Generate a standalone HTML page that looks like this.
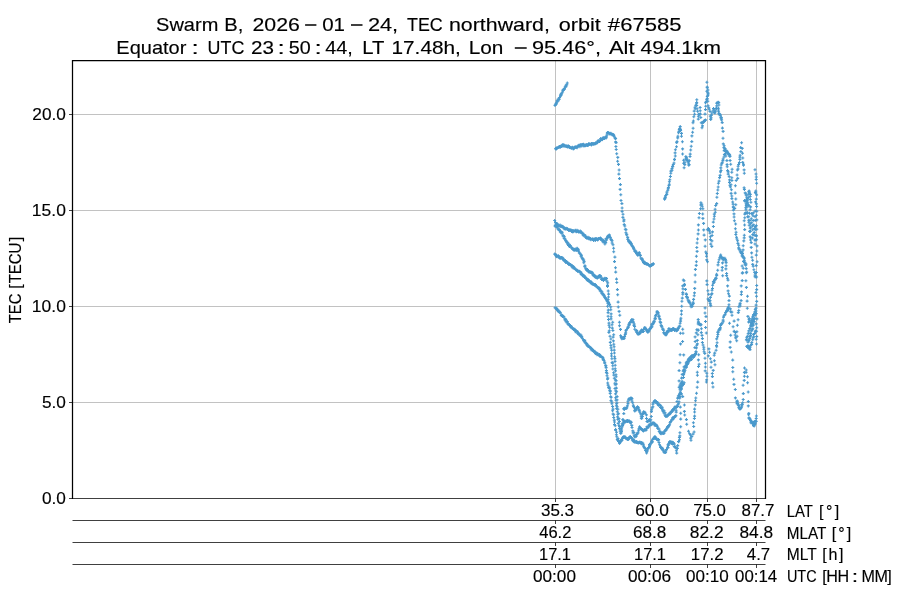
<!DOCTYPE html>
<html lang="en"><head><meta charset="utf-8"><title>TEC</title>
<style>html,body{margin:0;padding:0;background:#fff}svg{display:block;will-change:transform}</style></head>
<body>
<svg width="900" height="600" viewBox="0 0 900 600" font-family="'Liberation Sans', sans-serif" fill="#000">
<rect width="900" height="600" fill="#fff"/>
<path d="M72.5 114.5H765.5M72.5 210.5H765.5M72.5 306.5H765.5M72.5 402.5H765.5M555.5 60.5V498M650.5 60.5V498M707.5 60.5V498M756.5 60.5V498" stroke="#c2c2c2" stroke-width="1" fill="none"/>
<g stroke="#4a99cc" stroke-width="1.10" fill="none">
<path d="M553.5 105.4h3.0m-1.5 -1.5v3.0M557.6 99.5h3.0m-1.5 -1.5v3.0M561.5 90.5h3.0m-1.5 -1.5v3.0M565.8 83.0h3.0m-1.5 -1.5v3.0M557.7 147.1h3.0m-1.5 -1.5v3.0M560.9 145.3h3.0m-1.5 -1.5v3.0M565.3 145.8h3.0m-1.5 -1.5v3.0M570.0 148.1h3.0m-1.5 -1.5v3.0M573.7 147.2h3.0m-1.5 -1.5v3.0M578.4 146.7h3.0m-1.5 -1.5v3.0M582.4 146.1h3.0m-1.5 -1.5v3.0M586.8 144.9h3.0m-1.5 -1.5v3.0M590.2 143.5h3.0m-1.5 -1.5v3.0M594.2 143.2h3.0m-1.5 -1.5v3.0M598.9 140.5h3.0m-1.5 -1.5v3.0M602.1 138.2h3.0m-1.5 -1.5v3.0M606.2 132.6h3.0m-1.5 -1.5v3.0M610.2 133.9h3.0m-1.5 -1.5v3.0M614.1 138.6h3.0m-1.5 -1.5v3.0M617.0 164.4h3.0m-1.5 -1.5v3.0M620.4 203.6h3.0m-1.5 -1.5v3.0M623.3 226.0h3.0m-1.5 -1.5v3.0M627.1 240.0h3.0m-1.5 -1.5v3.0M630.2 245.2h3.0m-1.5 -1.5v3.0M634.4 251.2h3.0m-1.5 -1.5v3.0M637.7 252.6h3.0m-1.5 -1.5v3.0M642.0 262.5h3.0m-1.5 -1.5v3.0M645.6 264.3h3.0m-1.5 -1.5v3.0M650.2 265.3h3.0m-1.5 -1.5v3.0M555.1 224.6h3.0m-1.5 -1.5v3.0M559.4 226.7h3.0m-1.5 -1.5v3.0M563.4 228.8h3.0m-1.5 -1.5v3.0M567.7 229.9h3.0m-1.5 -1.5v3.0M571.6 231.7h3.0m-1.5 -1.5v3.0M575.6 231.2h3.0m-1.5 -1.5v3.0M579.9 232.7h3.0m-1.5 -1.5v3.0M584.0 237.3h3.0m-1.5 -1.5v3.0M588.9 238.5h3.0m-1.5 -1.5v3.0M592.9 239.1h3.0m-1.5 -1.5v3.0M596.9 239.1h3.0m-1.5 -1.5v3.0M601.4 241.1h3.0m-1.5 -1.5v3.0M604.4 238.9h3.0m-1.5 -1.5v3.0M607.8 235.8h3.0m-1.5 -1.5v3.0M612.1 248.3h3.0m-1.5 -1.5v3.0M615.9 289.6h3.0m-1.5 -1.5v3.0M619.0 329.4h3.0m-1.5 -1.5v3.0M622.5 338.4h3.0m-1.5 -1.5v3.0M626.1 328.2h3.0m-1.5 -1.5v3.0M629.4 322.1h3.0m-1.5 -1.5v3.0M633.1 326.5h3.0m-1.5 -1.5v3.0M637.6 333.2h3.0m-1.5 -1.5v3.0M640.2 330.8h3.0m-1.5 -1.5v3.0M644.6 329.8h3.0m-1.5 -1.5v3.0M647.6 330.9h3.0m-1.5 -1.5v3.0M651.9 323.7h3.0m-1.5 -1.5v3.0M654.8 314.7h3.0m-1.5 -1.5v3.0M658.6 319.3h3.0m-1.5 -1.5v3.0M662.2 330.2h3.0m-1.5 -1.5v3.0M665.5 332.7h3.0m-1.5 -1.5v3.0M669.4 330.2h3.0m-1.5 -1.5v3.0M672.3 329.0h3.0m-1.5 -1.5v3.0M676.2 329.6h3.0m-1.5 -1.5v3.0M679.4 318.2h3.0m-1.5 -1.5v3.0M681.5 288.9h3.0m-1.5 -1.5v3.0M685.0 294.5h3.0m-1.5 -1.5v3.0M687.7 302.3h3.0m-1.5 -1.5v3.0M691.6 302.2h3.0m-1.5 -1.5v3.0M694.7 265.4h3.0m-1.5 -1.5v3.0M696.9 230.0h3.0m-1.5 -1.5v3.0M700.7 206.3h3.0m-1.5 -1.5v3.0M703.6 246.3h3.0m-1.5 -1.5v3.0M554.7 226.1h3.0m-1.5 -1.5v3.0M558.9 231.3h3.0m-1.5 -1.5v3.0M562.7 238.5h3.0m-1.5 -1.5v3.0M567.0 245.5h3.0m-1.5 -1.5v3.0M571.4 249.1h3.0m-1.5 -1.5v3.0M575.6 248.8h3.0m-1.5 -1.5v3.0M579.8 255.6h3.0m-1.5 -1.5v3.0M583.5 265.8h3.0m-1.5 -1.5v3.0M586.8 271.2h3.0m-1.5 -1.5v3.0M591.6 274.1h3.0m-1.5 -1.5v3.0M594.8 277.2h3.0m-1.5 -1.5v3.0M599.0 275.9h3.0m-1.5 -1.5v3.0M602.6 278.7h3.0m-1.5 -1.5v3.0M606.0 285.4h3.0m-1.5 -1.5v3.0M606.8 310.1h3.0m-1.5 -1.5v3.0M607.4 332.4h3.0m-1.5 -1.5v3.0M610.0 356.0h3.0m-1.5 -1.5v3.0M612.8 378.2h3.0m-1.5 -1.5v3.0M614.4 400.2h3.0m-1.5 -1.5v3.0M616.7 423.4h3.0m-1.5 -1.5v3.0M620.6 423.7h3.0m-1.5 -1.5v3.0M624.4 408.4h3.0m-1.5 -1.5v3.0M628.6 398.9h3.0m-1.5 -1.5v3.0M632.1 406.6h3.0m-1.5 -1.5v3.0M636.3 407.4h3.0m-1.5 -1.5v3.0M639.8 418.3h3.0m-1.5 -1.5v3.0M643.1 412.6h3.0m-1.5 -1.5v3.0M647.4 420.9h3.0m-1.5 -1.5v3.0M650.6 407.9h3.0m-1.5 -1.5v3.0M655.0 402.0h3.0m-1.5 -1.5v3.0M658.7 405.4h3.0m-1.5 -1.5v3.0M662.5 410.8h3.0m-1.5 -1.5v3.0M666.0 415.7h3.0m-1.5 -1.5v3.0M670.1 411.2h3.0m-1.5 -1.5v3.0M674.1 407.2h3.0m-1.5 -1.5v3.0M678.3 398.0h3.0m-1.5 -1.5v3.0M681.6 383.7h3.0m-1.5 -1.5v3.0M683.6 367.7h3.0m-1.5 -1.5v3.0M688.1 359.5h3.0m-1.5 -1.5v3.0M692.0 357.1h3.0m-1.5 -1.5v3.0M695.9 343.9h3.0m-1.5 -1.5v3.0M697.9 324.2h3.0m-1.5 -1.5v3.0M700.9 338.6h3.0m-1.5 -1.5v3.0M703.9 363.3h3.0m-1.5 -1.5v3.0M554.3 254.5h3.0m-1.5 -1.5v3.0M558.0 258.1h3.0m-1.5 -1.5v3.0M562.6 260.3h3.0m-1.5 -1.5v3.0M566.3 263.0h3.0m-1.5 -1.5v3.0M570.5 265.5h3.0m-1.5 -1.5v3.0M574.3 269.7h3.0m-1.5 -1.5v3.0M579.3 272.4h3.0m-1.5 -1.5v3.0M583.4 277.5h3.0m-1.5 -1.5v3.0M587.6 281.5h3.0m-1.5 -1.5v3.0M591.8 284.3h3.0m-1.5 -1.5v3.0M595.9 287.3h3.0m-1.5 -1.5v3.0M599.5 291.3h3.0m-1.5 -1.5v3.0M603.3 297.3h3.0m-1.5 -1.5v3.0M607.1 302.5h3.0m-1.5 -1.5v3.0M609.5 318.9h3.0m-1.5 -1.5v3.0M612.3 344.3h3.0m-1.5 -1.5v3.0M613.7 368.8h3.0m-1.5 -1.5v3.0M615.6 396.6h3.0m-1.5 -1.5v3.0M618.0 426.5h3.0m-1.5 -1.5v3.0M621.8 423.8h3.0m-1.5 -1.5v3.0M626.0 421.4h3.0m-1.5 -1.5v3.0M630.3 425.4h3.0m-1.5 -1.5v3.0M634.6 436.4h3.0m-1.5 -1.5v3.0M638.1 426.7h3.0m-1.5 -1.5v3.0M642.9 429.7h3.0m-1.5 -1.5v3.0M647.5 425.1h3.0m-1.5 -1.5v3.0M651.2 423.1h3.0m-1.5 -1.5v3.0M655.1 425.3h3.0m-1.5 -1.5v3.0M659.2 433.5h3.0m-1.5 -1.5v3.0M664.0 430.2h3.0m-1.5 -1.5v3.0M667.4 425.5h3.0m-1.5 -1.5v3.0M671.4 417.5h3.0m-1.5 -1.5v3.0M675.8 406.5h3.0m-1.5 -1.5v3.0M678.2 387.4h3.0m-1.5 -1.5v3.0M681.7 371.1h3.0m-1.5 -1.5v3.0M684.8 362.8h3.0m-1.5 -1.5v3.0M688.8 357.4h3.0m-1.5 -1.5v3.0M692.9 354.9h3.0m-1.5 -1.5v3.0M555.8 309.3h3.0m-1.5 -1.5v3.0M559.8 315.4h3.0m-1.5 -1.5v3.0M564.3 319.8h3.0m-1.5 -1.5v3.0M568.8 325.5h3.0m-1.5 -1.5v3.0M572.2 329.2h3.0m-1.5 -1.5v3.0M576.8 333.1h3.0m-1.5 -1.5v3.0M580.2 336.9h3.0m-1.5 -1.5v3.0M584.7 343.3h3.0m-1.5 -1.5v3.0M588.5 347.3h3.0m-1.5 -1.5v3.0M592.2 351.5h3.0m-1.5 -1.5v3.0M596.4 354.0h3.0m-1.5 -1.5v3.0M600.8 357.4h3.0m-1.5 -1.5v3.0M604.4 365.8h3.0m-1.5 -1.5v3.0M606.2 383.0h3.0m-1.5 -1.5v3.0M609.1 396.7h3.0m-1.5 -1.5v3.0M611.5 414.0h3.0m-1.5 -1.5v3.0M614.1 430.1h3.0m-1.5 -1.5v3.0M617.1 441.5h3.0m-1.5 -1.5v3.0M619.8 439.7h3.0m-1.5 -1.5v3.0M623.5 437.1h3.0m-1.5 -1.5v3.0M627.4 438.7h3.0m-1.5 -1.5v3.0M631.4 439.4h3.0m-1.5 -1.5v3.0M634.8 442.6h3.0m-1.5 -1.5v3.0M639.2 443.1h3.0m-1.5 -1.5v3.0M642.6 447.3h3.0m-1.5 -1.5v3.0M645.9 448.5h3.0m-1.5 -1.5v3.0M650.3 442.5h3.0m-1.5 -1.5v3.0M653.5 437.9h3.0m-1.5 -1.5v3.0M657.5 442.5h3.0m-1.5 -1.5v3.0M661.7 450.0h3.0m-1.5 -1.5v3.0M666.5 447.6h3.0m-1.5 -1.5v3.0M670.4 443.4h3.0m-1.5 -1.5v3.0M673.9 447.2h3.0m-1.5 -1.5v3.0M678.0 439.8h3.0m-1.5 -1.5v3.0M677.0 397.6h3.0m-1.5 -1.5v3.0M679.1 343.9h3.0m-1.5 -1.5v3.0M663.8 197.3h3.0m-1.5 -1.5v3.0M667.5 185.5h3.0m-1.5 -1.5v3.0M670.5 168.5h3.0m-1.5 -1.5v3.0M673.6 152.9h3.0m-1.5 -1.5v3.0M677.5 131.4h3.0m-1.5 -1.5v3.0M680.9 141.8h3.0m-1.5 -1.5v3.0M684.2 159.1h3.0m-1.5 -1.5v3.0M687.6 164.5h3.0m-1.5 -1.5v3.0M690.4 135.9h3.0m-1.5 -1.5v3.0M693.7 108.8h3.0m-1.5 -1.5v3.0M696.1 111.3h3.0m-1.5 -1.5v3.0M699.3 117.5h3.0m-1.5 -1.5v3.0M702.5 121.2h3.0m-1.5 -1.5v3.0M704.8 101.6h3.0m-1.5 -1.5v3.0M705.4 82.3h3.0m-1.5 -1.5v3.0M708.5 111.4h3.0m-1.5 -1.5v3.0M712.0 108.5h3.0m-1.5 -1.5v3.0M715.3 105.9h3.0m-1.5 -1.5v3.0M717.1 111.8h3.0m-1.5 -1.5v3.0M720.1 119.9h3.0m-1.5 -1.5v3.0M723.4 148.5h3.0m-1.5 -1.5v3.0M726.8 153.2h3.0m-1.5 -1.5v3.0M730.6 169.3h3.0m-1.5 -1.5v3.0M707.5 229.8h3.0m-1.5 -1.5v3.0M710.6 235.5h3.0m-1.5 -1.5v3.0M713.6 209.3h3.0m-1.5 -1.5v3.0M717.6 181.1h3.0m-1.5 -1.5v3.0M720.8 162.7h3.0m-1.5 -1.5v3.0M724.2 151.8h3.0m-1.5 -1.5v3.0M726.7 174.1h3.0m-1.5 -1.5v3.0M730.3 196.0h3.0m-1.5 -1.5v3.0M732.6 217.0h3.0m-1.5 -1.5v3.0M736.1 240.7h3.0m-1.5 -1.5v3.0M740.0 252.3h3.0m-1.5 -1.5v3.0M742.8 235.2h3.0m-1.5 -1.5v3.0M744.2 207.7h3.0m-1.5 -1.5v3.0M747.7 191.0h3.0m-1.5 -1.5v3.0M707.8 301.1h3.0m-1.5 -1.5v3.0M742.4 257.9h3.0m-1.5 -1.5v3.0M744.7 268.6h3.0m-1.5 -1.5v3.0M736.2 178.4h3.0m-1.5 -1.5v3.0M738.4 157.1h3.0m-1.5 -1.5v3.0M741.2 162.4h3.0m-1.5 -1.5v3.0M744.3 193.7h3.0m-1.5 -1.5v3.0M743.1 200.6h3.0m-1.5 -1.5v3.0M748.6 196.5h3.0m-1.5 -1.5v3.0M748.9 223.7h3.0m-1.5 -1.5v3.0M751.1 260.3h3.0m-1.5 -1.5v3.0M745.6 213.5h3.0m-1.5 -1.5v3.0M749.0 240.0h3.0m-1.5 -1.5v3.0M753.3 240.0h3.0m-1.5 -1.5v3.0M751.0 238.0h3.0m-1.5 -1.5v3.0M753.5 169.7h3.0m-1.5 -1.5v3.0M755.1 194.9h3.0m-1.5 -1.5v3.0M754.9 225.7h3.0m-1.5 -1.5v3.0M754.7 265.6h3.0m-1.5 -1.5v3.0M755.0 296.3h3.0m-1.5 -1.5v3.0M755.1 331.2h3.0m-1.5 -1.5v3.0M710.5 290.3h3.0m-1.5 -1.5v3.0M714.2 278.1h3.0m-1.5 -1.5v3.0M718.2 257.8h3.0m-1.5 -1.5v3.0M721.9 258.4h3.0m-1.5 -1.5v3.0M725.1 273.5h3.0m-1.5 -1.5v3.0M727.5 300.6h3.0m-1.5 -1.5v3.0M721.8 260.0h3.0m-1.5 -1.5v3.0M718.4 329.7h3.0m-1.5 -1.5v3.0M721.6 320.1h3.0m-1.5 -1.5v3.0M726.3 310.6h3.0m-1.5 -1.5v3.0M732.6 321.1h3.0m-1.5 -1.5v3.0M736.8 312.6h3.0m-1.5 -1.5v3.0M740.0 291.9h3.0m-1.5 -1.5v3.0M729.2 335.2h3.0m-1.5 -1.5v3.0M732.5 384.4h3.0m-1.5 -1.5v3.0M737.4 405.4h3.0m-1.5 -1.5v3.0M740.0 407.7h3.0m-1.5 -1.5v3.0M742.7 380.4h3.0m-1.5 -1.5v3.0M746.7 392.0h3.0m-1.5 -1.5v3.0M749.2 420.6h3.0m-1.5 -1.5v3.0M752.0 425.6h3.0m-1.5 -1.5v3.0M754.7 418.5h3.0m-1.5 -1.5v3.0M745.2 272.1h3.0m-1.5 -1.5v3.0M744.9 339.9h3.0m-1.5 -1.5v3.0M748.4 328.5h3.0m-1.5 -1.5v3.0M752.1 314.6h3.0m-1.5 -1.5v3.0M748.2 338.6h3.0m-1.5 -1.5v3.0M751.6 324.1h3.0m-1.5 -1.5v3.0M746.2 347.5h3.0m-1.5 -1.5v3.0M750.3 342.5h3.0m-1.5 -1.5v3.0M747.8 318.5h3.0m-1.5 -1.5v3.0M751.6 321.5h3.0m-1.5 -1.5v3.0M683.2 415.0h3.0m-1.5 -1.5v3.0M690.3 436.5h3.0m-1.5 -1.5v3.0M693.1 409.1h3.0m-1.5 -1.5v3.0M695.8 372.2h3.0m-1.5 -1.5v3.0M704.0 321.5h3.0m-1.5 -1.5v3.0M709.5 367.2h3.0m-1.5 -1.5v3.0M714.6 350.3h3.0m-1.5 -1.5v3.0M694.8 332.9h3.0m-1.5 -1.5v3.0"/>
<path d="M554.3 104.3h3.0m-1.5 -1.5v3.0M558.1 97.6h3.0m-1.5 -1.5v3.0M561.6 89.9h3.0m-1.5 -1.5v3.0M554.0 148.8h3.0m-1.5 -1.5v3.0M558.1 146.6h3.0m-1.5 -1.5v3.0M561.5 144.6h3.0m-1.5 -1.5v3.0M565.9 146.9h3.0m-1.5 -1.5v3.0M570.2 148.1h3.0m-1.5 -1.5v3.0M574.3 146.9h3.0m-1.5 -1.5v3.0M578.5 145.6h3.0m-1.5 -1.5v3.0M583.3 145.6h3.0m-1.5 -1.5v3.0M586.8 144.5h3.0m-1.5 -1.5v3.0M590.7 143.4h3.0m-1.5 -1.5v3.0M594.8 143.0h3.0m-1.5 -1.5v3.0M598.9 140.0h3.0m-1.5 -1.5v3.0M602.7 137.7h3.0m-1.5 -1.5v3.0M606.4 132.8h3.0m-1.5 -1.5v3.0M610.6 134.7h3.0m-1.5 -1.5v3.0M614.1 141.9h3.0m-1.5 -1.5v3.0M617.6 170.0h3.0m-1.5 -1.5v3.0M620.6 208.0h3.0m-1.5 -1.5v3.0M623.8 229.2h3.0m-1.5 -1.5v3.0M627.1 241.1h3.0m-1.5 -1.5v3.0M630.8 246.1h3.0m-1.5 -1.5v3.0M634.8 252.4h3.0m-1.5 -1.5v3.0M638.2 255.1h3.0m-1.5 -1.5v3.0M643.1 262.2h3.0m-1.5 -1.5v3.0M646.1 263.9h3.0m-1.5 -1.5v3.0M650.1 265.2h3.0m-1.5 -1.5v3.0M555.7 224.6h3.0m-1.5 -1.5v3.0M559.7 226.5h3.0m-1.5 -1.5v3.0M564.2 228.9h3.0m-1.5 -1.5v3.0M568.1 230.3h3.0m-1.5 -1.5v3.0M572.1 231.0h3.0m-1.5 -1.5v3.0M576.5 231.0h3.0m-1.5 -1.5v3.0M580.9 233.4h3.0m-1.5 -1.5v3.0M585.0 237.6h3.0m-1.5 -1.5v3.0M589.0 239.0h3.0m-1.5 -1.5v3.0M593.8 240.5h3.0m-1.5 -1.5v3.0M597.4 238.6h3.0m-1.5 -1.5v3.0M601.8 240.2h3.0m-1.5 -1.5v3.0M605.2 238.8h3.0m-1.5 -1.5v3.0M608.7 237.5h3.0m-1.5 -1.5v3.0M612.2 251.8h3.0m-1.5 -1.5v3.0M616.2 294.8h3.0m-1.5 -1.5v3.0M619.1 335.7h3.0m-1.5 -1.5v3.0M623.1 336.5h3.0m-1.5 -1.5v3.0M626.6 327.2h3.0m-1.5 -1.5v3.0M630.2 320.2h3.0m-1.5 -1.5v3.0M633.3 329.3h3.0m-1.5 -1.5v3.0M637.9 333.8h3.0m-1.5 -1.5v3.0M640.9 331.5h3.0m-1.5 -1.5v3.0M644.9 329.3h3.0m-1.5 -1.5v3.0M648.2 328.7h3.0m-1.5 -1.5v3.0M652.2 322.4h3.0m-1.5 -1.5v3.0M655.6 312.6h3.0m-1.5 -1.5v3.0M658.6 321.9h3.0m-1.5 -1.5v3.0M662.1 332.7h3.0m-1.5 -1.5v3.0M665.7 331.6h3.0m-1.5 -1.5v3.0M669.8 330.5h3.0m-1.5 -1.5v3.0M673.3 330.5h3.0m-1.5 -1.5v3.0M676.8 328.5h3.0m-1.5 -1.5v3.0M679.9 314.2h3.0m-1.5 -1.5v3.0M681.2 285.9h3.0m-1.5 -1.5v3.0M685.1 296.8h3.0m-1.5 -1.5v3.0M688.6 303.0h3.0m-1.5 -1.5v3.0M692.1 299.4h3.0m-1.5 -1.5v3.0M694.9 261.8h3.0m-1.5 -1.5v3.0M696.9 224.9h3.0m-1.5 -1.5v3.0M701.4 208.7h3.0m-1.5 -1.5v3.0M704.3 252.0h3.0m-1.5 -1.5v3.0M555.2 226.7h3.0m-1.5 -1.5v3.0M558.9 232.2h3.0m-1.5 -1.5v3.0M563.6 239.0h3.0m-1.5 -1.5v3.0M567.5 244.4h3.0m-1.5 -1.5v3.0M572.3 249.6h3.0m-1.5 -1.5v3.0M575.6 248.3h3.0m-1.5 -1.5v3.0M579.6 256.2h3.0m-1.5 -1.5v3.0M583.3 266.6h3.0m-1.5 -1.5v3.0M587.3 271.9h3.0m-1.5 -1.5v3.0M591.6 275.2h3.0m-1.5 -1.5v3.0M595.8 277.8h3.0m-1.5 -1.5v3.0M599.3 276.7h3.0m-1.5 -1.5v3.0M603.4 278.2h3.0m-1.5 -1.5v3.0M606.0 286.5h3.0m-1.5 -1.5v3.0M606.6 312.6h3.0m-1.5 -1.5v3.0M608.5 336.2h3.0m-1.5 -1.5v3.0M610.4 358.8h3.0m-1.5 -1.5v3.0M613.9 380.0h3.0m-1.5 -1.5v3.0M615.0 403.7h3.0m-1.5 -1.5v3.0M617.6 425.5h3.0m-1.5 -1.5v3.0M621.5 420.0h3.0m-1.5 -1.5v3.0M625.3 407.8h3.0m-1.5 -1.5v3.0M629.2 398.3h3.0m-1.5 -1.5v3.0M633.1 407.9h3.0m-1.5 -1.5v3.0M636.4 407.4h3.0m-1.5 -1.5v3.0M640.3 418.2h3.0m-1.5 -1.5v3.0M643.6 413.3h3.0m-1.5 -1.5v3.0M647.9 420.0h3.0m-1.5 -1.5v3.0M651.4 406.8h3.0m-1.5 -1.5v3.0M654.9 401.8h3.0m-1.5 -1.5v3.0M659.2 405.9h3.0m-1.5 -1.5v3.0M662.4 413.0h3.0m-1.5 -1.5v3.0M666.7 415.0h3.0m-1.5 -1.5v3.0M671.2 411.0h3.0m-1.5 -1.5v3.0M675.0 407.3h3.0m-1.5 -1.5v3.0M678.4 396.6h3.0m-1.5 -1.5v3.0M681.9 384.4h3.0m-1.5 -1.5v3.0M685.0 367.2h3.0m-1.5 -1.5v3.0M688.8 359.3h3.0m-1.5 -1.5v3.0M693.0 354.7h3.0m-1.5 -1.5v3.0M695.8 340.4h3.0m-1.5 -1.5v3.0M698.3 323.9h3.0m-1.5 -1.5v3.0M700.9 342.5h3.0m-1.5 -1.5v3.0M703.9 367.0h3.0m-1.5 -1.5v3.0M554.2 255.1h3.0m-1.5 -1.5v3.0M559.1 258.3h3.0m-1.5 -1.5v3.0M562.6 260.6h3.0m-1.5 -1.5v3.0M567.1 264.2h3.0m-1.5 -1.5v3.0M571.4 266.7h3.0m-1.5 -1.5v3.0M575.5 270.3h3.0m-1.5 -1.5v3.0M579.1 272.7h3.0m-1.5 -1.5v3.0M583.2 276.9h3.0m-1.5 -1.5v3.0M587.8 281.0h3.0m-1.5 -1.5v3.0M591.6 284.0h3.0m-1.5 -1.5v3.0M596.4 287.5h3.0m-1.5 -1.5v3.0M600.4 291.7h3.0m-1.5 -1.5v3.0M603.7 297.6h3.0m-1.5 -1.5v3.0M607.4 303.7h3.0m-1.5 -1.5v3.0M611.2 322.2h3.0m-1.5 -1.5v3.0M612.6 346.7h3.0m-1.5 -1.5v3.0M614.0 370.9h3.0m-1.5 -1.5v3.0M615.5 399.9h3.0m-1.5 -1.5v3.0M618.2 428.7h3.0m-1.5 -1.5v3.0M622.5 422.5h3.0m-1.5 -1.5v3.0M626.2 420.4h3.0m-1.5 -1.5v3.0M630.5 427.5h3.0m-1.5 -1.5v3.0M635.0 434.6h3.0m-1.5 -1.5v3.0M639.1 428.6h3.0m-1.5 -1.5v3.0M643.4 429.6h3.0m-1.5 -1.5v3.0M647.9 425.5h3.0m-1.5 -1.5v3.0M652.2 423.1h3.0m-1.5 -1.5v3.0M655.9 426.2h3.0m-1.5 -1.5v3.0M659.6 433.8h3.0m-1.5 -1.5v3.0M664.3 430.2h3.0m-1.5 -1.5v3.0M668.1 424.7h3.0m-1.5 -1.5v3.0M671.8 417.9h3.0m-1.5 -1.5v3.0M675.5 401.5h3.0m-1.5 -1.5v3.0M678.6 385.1h3.0m-1.5 -1.5v3.0M682.1 370.3h3.0m-1.5 -1.5v3.0M685.7 361.5h3.0m-1.5 -1.5v3.0M689.7 356.6h3.0m-1.5 -1.5v3.0M693.5 354.6h3.0m-1.5 -1.5v3.0M556.1 310.0h3.0m-1.5 -1.5v3.0M561.2 315.8h3.0m-1.5 -1.5v3.0M564.6 321.7h3.0m-1.5 -1.5v3.0M568.9 326.4h3.0m-1.5 -1.5v3.0M573.1 329.3h3.0m-1.5 -1.5v3.0M576.8 333.9h3.0m-1.5 -1.5v3.0M580.8 338.3h3.0m-1.5 -1.5v3.0M585.0 343.5h3.0m-1.5 -1.5v3.0M588.7 347.4h3.0m-1.5 -1.5v3.0M593.1 351.2h3.0m-1.5 -1.5v3.0M597.4 355.1h3.0m-1.5 -1.5v3.0M601.3 357.6h3.0m-1.5 -1.5v3.0M604.6 367.6h3.0m-1.5 -1.5v3.0M606.6 385.1h3.0m-1.5 -1.5v3.0M609.7 397.2h3.0m-1.5 -1.5v3.0M612.2 414.7h3.0m-1.5 -1.5v3.0M615.0 432.3h3.0m-1.5 -1.5v3.0M617.2 441.3h3.0m-1.5 -1.5v3.0M620.5 440.2h3.0m-1.5 -1.5v3.0M624.0 438.0h3.0m-1.5 -1.5v3.0M627.5 437.8h3.0m-1.5 -1.5v3.0M631.9 441.2h3.0m-1.5 -1.5v3.0M635.6 442.2h3.0m-1.5 -1.5v3.0M639.7 442.4h3.0m-1.5 -1.5v3.0M643.1 447.7h3.0m-1.5 -1.5v3.0M646.7 448.8h3.0m-1.5 -1.5v3.0M650.0 441.3h3.0m-1.5 -1.5v3.0M653.8 438.0h3.0m-1.5 -1.5v3.0M658.0 444.8h3.0m-1.5 -1.5v3.0M662.4 451.8h3.0m-1.5 -1.5v3.0M666.5 444.7h3.0m-1.5 -1.5v3.0M671.1 442.2h3.0m-1.5 -1.5v3.0M674.5 447.9h3.0m-1.5 -1.5v3.0M677.9 437.4h3.0m-1.5 -1.5v3.0M678.8 392.1h3.0m-1.5 -1.5v3.0M681.1 341.5h3.0m-1.5 -1.5v3.0M664.0 195.9h3.0m-1.5 -1.5v3.0M667.8 184.3h3.0m-1.5 -1.5v3.0M671.2 166.6h3.0m-1.5 -1.5v3.0M673.9 149.7h3.0m-1.5 -1.5v3.0M677.8 129.5h3.0m-1.5 -1.5v3.0M681.1 148.9h3.0m-1.5 -1.5v3.0M684.2 156.8h3.0m-1.5 -1.5v3.0M687.3 165.2h3.0m-1.5 -1.5v3.0M691.1 132.3h3.0m-1.5 -1.5v3.0M693.5 107.3h3.0m-1.5 -1.5v3.0M697.1 114.3h3.0m-1.5 -1.5v3.0M699.8 122.8h3.0m-1.5 -1.5v3.0M703.4 120.4h3.0m-1.5 -1.5v3.0M705.3 99.6h3.0m-1.5 -1.5v3.0M705.7 87.1h3.0m-1.5 -1.5v3.0M708.8 116.1h3.0m-1.5 -1.5v3.0M712.5 109.8h3.0m-1.5 -1.5v3.0M715.2 103.3h3.0m-1.5 -1.5v3.0M717.4 113.5h3.0m-1.5 -1.5v3.0M720.7 122.6h3.0m-1.5 -1.5v3.0M723.5 150.1h3.0m-1.5 -1.5v3.0M726.8 154.0h3.0m-1.5 -1.5v3.0M730.3 172.2h3.0m-1.5 -1.5v3.0M708.0 230.9h3.0m-1.5 -1.5v3.0M711.0 231.9h3.0m-1.5 -1.5v3.0M714.2 205.5h3.0m-1.5 -1.5v3.0M718.1 177.6h3.0m-1.5 -1.5v3.0M721.4 160.6h3.0m-1.5 -1.5v3.0M723.9 153.9h3.0m-1.5 -1.5v3.0M727.7 176.6h3.0m-1.5 -1.5v3.0M730.4 198.6h3.0m-1.5 -1.5v3.0M732.9 220.7h3.0m-1.5 -1.5v3.0M736.4 243.4h3.0m-1.5 -1.5v3.0M740.0 253.3h3.0m-1.5 -1.5v3.0M743.2 229.6h3.0m-1.5 -1.5v3.0M745.1 204.7h3.0m-1.5 -1.5v3.0M705.3 280.9h3.0m-1.5 -1.5v3.0M708.7 303.4h3.0m-1.5 -1.5v3.0M742.9 260.2h3.0m-1.5 -1.5v3.0M744.8 272.7h3.0m-1.5 -1.5v3.0M735.6 175.0h3.0m-1.5 -1.5v3.0M738.6 155.3h3.0m-1.5 -1.5v3.0M742.0 164.2h3.0m-1.5 -1.5v3.0M744.7 195.2h3.0m-1.5 -1.5v3.0M743.6 201.5h3.0m-1.5 -1.5v3.0M748.8 199.5h3.0m-1.5 -1.5v3.0M749.2 227.2h3.0m-1.5 -1.5v3.0M751.2 264.4h3.0m-1.5 -1.5v3.0M746.1 216.7h3.0m-1.5 -1.5v3.0M751.8 212.9h3.0m-1.5 -1.5v3.0M753.5 244.0h3.0m-1.5 -1.5v3.0M753.7 211.1h3.0m-1.5 -1.5v3.0M754.5 174.0h3.0m-1.5 -1.5v3.0M754.8 199.1h3.0m-1.5 -1.5v3.0M755.3 229.2h3.0m-1.5 -1.5v3.0M754.9 272.5h3.0m-1.5 -1.5v3.0M755.2 301.4h3.0m-1.5 -1.5v3.0M755.2 336.5h3.0m-1.5 -1.5v3.0M711.0 288.5h3.0m-1.5 -1.5v3.0M714.6 278.4h3.0m-1.5 -1.5v3.0M718.9 256.1h3.0m-1.5 -1.5v3.0M722.1 258.2h3.0m-1.5 -1.5v3.0M725.1 275.6h3.0m-1.5 -1.5v3.0M727.5 304.8h3.0m-1.5 -1.5v3.0M715.0 345.6h3.0m-1.5 -1.5v3.0M718.4 328.6h3.0m-1.5 -1.5v3.0M722.0 317.1h3.0m-1.5 -1.5v3.0M726.5 309.0h3.0m-1.5 -1.5v3.0M731.6 326.8h3.0m-1.5 -1.5v3.0M737.3 310.5h3.0m-1.5 -1.5v3.0M739.7 285.9h3.0m-1.5 -1.5v3.0M728.7 341.9h3.0m-1.5 -1.5v3.0M733.8 389.5h3.0m-1.5 -1.5v3.0M736.8 405.3h3.0m-1.5 -1.5v3.0M740.2 406.2h3.0m-1.5 -1.5v3.0M742.9 376.2h3.0m-1.5 -1.5v3.0M746.8 401.5h3.0m-1.5 -1.5v3.0M749.0 420.3h3.0m-1.5 -1.5v3.0M752.7 425.9h3.0m-1.5 -1.5v3.0M754.9 416.0h3.0m-1.5 -1.5v3.0M744.4 280.7h3.0m-1.5 -1.5v3.0M745.4 339.2h3.0m-1.5 -1.5v3.0M749.4 325.5h3.0m-1.5 -1.5v3.0M753.4 313.1h3.0m-1.5 -1.5v3.0M748.6 336.6h3.0m-1.5 -1.5v3.0M752.7 321.6h3.0m-1.5 -1.5v3.0M747.4 346.5h3.0m-1.5 -1.5v3.0M751.2 339.7h3.0m-1.5 -1.5v3.0M747.6 319.5h3.0m-1.5 -1.5v3.0M752.0 320.0h3.0m-1.5 -1.5v3.0M684.9 419.6h3.0m-1.5 -1.5v3.0M691.5 434.1h3.0m-1.5 -1.5v3.0M693.8 404.9h3.0m-1.5 -1.5v3.0M697.0 366.5h3.0m-1.5 -1.5v3.0M704.1 327.5h3.0m-1.5 -1.5v3.0M711.7 370.4h3.0m-1.5 -1.5v3.0M713.2 353.1h3.0m-1.5 -1.5v3.0M695.3 329.7h3.0m-1.5 -1.5v3.0"/>
<path d="M554.7 103.9h3.0m-1.5 -1.5v3.0M558.9 96.0h3.0m-1.5 -1.5v3.0M562.7 89.4h3.0m-1.5 -1.5v3.0M554.8 148.2h3.0m-1.5 -1.5v3.0M558.8 147.2h3.0m-1.5 -1.5v3.0M561.9 145.9h3.0m-1.5 -1.5v3.0M566.9 145.9h3.0m-1.5 -1.5v3.0M570.9 147.2h3.0m-1.5 -1.5v3.0M574.5 147.0h3.0m-1.5 -1.5v3.0M578.7 144.7h3.0m-1.5 -1.5v3.0M583.3 145.1h3.0m-1.5 -1.5v3.0M587.4 143.5h3.0m-1.5 -1.5v3.0M591.6 144.5h3.0m-1.5 -1.5v3.0M595.9 142.0h3.0m-1.5 -1.5v3.0M599.2 138.6h3.0m-1.5 -1.5v3.0M603.1 138.4h3.0m-1.5 -1.5v3.0M606.9 132.7h3.0m-1.5 -1.5v3.0M611.4 134.4h3.0m-1.5 -1.5v3.0M614.6 142.6h3.0m-1.5 -1.5v3.0M617.4 174.1h3.0m-1.5 -1.5v3.0M620.6 211.4h3.0m-1.5 -1.5v3.0M624.6 229.8h3.0m-1.5 -1.5v3.0M627.6 241.9h3.0m-1.5 -1.5v3.0M631.7 247.0h3.0m-1.5 -1.5v3.0M635.0 253.6h3.0m-1.5 -1.5v3.0M638.9 255.4h3.0m-1.5 -1.5v3.0M642.8 263.4h3.0m-1.5 -1.5v3.0M646.8 264.5h3.0m-1.5 -1.5v3.0M651.3 264.5h3.0m-1.5 -1.5v3.0M555.8 223.8h3.0m-1.5 -1.5v3.0M560.3 225.9h3.0m-1.5 -1.5v3.0M564.6 228.2h3.0m-1.5 -1.5v3.0M568.5 229.8h3.0m-1.5 -1.5v3.0M572.6 231.0h3.0m-1.5 -1.5v3.0M576.7 231.2h3.0m-1.5 -1.5v3.0M580.9 233.5h3.0m-1.5 -1.5v3.0M585.3 238.2h3.0m-1.5 -1.5v3.0M589.4 239.8h3.0m-1.5 -1.5v3.0M593.9 238.9h3.0m-1.5 -1.5v3.0M597.6 238.4h3.0m-1.5 -1.5v3.0M601.6 242.0h3.0m-1.5 -1.5v3.0M606.0 237.9h3.0m-1.5 -1.5v3.0M608.7 237.2h3.0m-1.5 -1.5v3.0M613.4 257.1h3.0m-1.5 -1.5v3.0M616.6 302.1h3.0m-1.5 -1.5v3.0M619.9 337.3h3.0m-1.5 -1.5v3.0M622.8 336.8h3.0m-1.5 -1.5v3.0M626.6 327.1h3.0m-1.5 -1.5v3.0M630.1 319.7h3.0m-1.5 -1.5v3.0M634.7 331.0h3.0m-1.5 -1.5v3.0M638.4 333.5h3.0m-1.5 -1.5v3.0M641.9 331.5h3.0m-1.5 -1.5v3.0M645.5 330.5h3.0m-1.5 -1.5v3.0M649.0 328.6h3.0m-1.5 -1.5v3.0M652.6 321.6h3.0m-1.5 -1.5v3.0M655.6 311.4h3.0m-1.5 -1.5v3.0M659.2 322.6h3.0m-1.5 -1.5v3.0M662.9 333.3h3.0m-1.5 -1.5v3.0M666.4 332.1h3.0m-1.5 -1.5v3.0M670.1 329.5h3.0m-1.5 -1.5v3.0M673.1 330.3h3.0m-1.5 -1.5v3.0M676.8 327.9h3.0m-1.5 -1.5v3.0M680.0 310.9h3.0m-1.5 -1.5v3.0M681.8 280.0h3.0m-1.5 -1.5v3.0M685.2 296.6h3.0m-1.5 -1.5v3.0M689.3 304.2h3.0m-1.5 -1.5v3.0M692.7 295.8h3.0m-1.5 -1.5v3.0M694.9 256.2h3.0m-1.5 -1.5v3.0M697.5 217.7h3.0m-1.5 -1.5v3.0M701.2 214.0h3.0m-1.5 -1.5v3.0M705.0 253.6h3.0m-1.5 -1.5v3.0M555.3 226.6h3.0m-1.5 -1.5v3.0M560.1 232.1h3.0m-1.5 -1.5v3.0M564.2 240.5h3.0m-1.5 -1.5v3.0M568.0 246.6h3.0m-1.5 -1.5v3.0M572.1 249.9h3.0m-1.5 -1.5v3.0M576.7 249.4h3.0m-1.5 -1.5v3.0M580.4 257.8h3.0m-1.5 -1.5v3.0M584.3 268.8h3.0m-1.5 -1.5v3.0M588.4 272.3h3.0m-1.5 -1.5v3.0M592.0 274.9h3.0m-1.5 -1.5v3.0M595.7 277.9h3.0m-1.5 -1.5v3.0M600.4 278.4h3.0m-1.5 -1.5v3.0M603.8 279.3h3.0m-1.5 -1.5v3.0M606.7 291.0h3.0m-1.5 -1.5v3.0M606.6 316.3h3.0m-1.5 -1.5v3.0M609.4 339.0h3.0m-1.5 -1.5v3.0M610.6 362.6h3.0m-1.5 -1.5v3.0M613.4 383.2h3.0m-1.5 -1.5v3.0M614.9 405.8h3.0m-1.5 -1.5v3.0M618.1 428.4h3.0m-1.5 -1.5v3.0M621.4 419.5h3.0m-1.5 -1.5v3.0M625.9 405.9h3.0m-1.5 -1.5v3.0M629.6 398.1h3.0m-1.5 -1.5v3.0M633.3 410.9h3.0m-1.5 -1.5v3.0M636.9 408.0h3.0m-1.5 -1.5v3.0M640.9 416.4h3.0m-1.5 -1.5v3.0M644.9 414.9h3.0m-1.5 -1.5v3.0M647.9 419.7h3.0m-1.5 -1.5v3.0M651.4 404.1h3.0m-1.5 -1.5v3.0M655.6 402.4h3.0m-1.5 -1.5v3.0M659.0 407.5h3.0m-1.5 -1.5v3.0M663.6 412.9h3.0m-1.5 -1.5v3.0M667.4 414.1h3.0m-1.5 -1.5v3.0M671.3 409.5h3.0m-1.5 -1.5v3.0M674.8 406.7h3.0m-1.5 -1.5v3.0M679.7 394.1h3.0m-1.5 -1.5v3.0M682.7 382.7h3.0m-1.5 -1.5v3.0M684.6 366.6h3.0m-1.5 -1.5v3.0M689.5 359.6h3.0m-1.5 -1.5v3.0M693.1 355.0h3.0m-1.5 -1.5v3.0M696.4 334.8h3.0m-1.5 -1.5v3.0M698.8 324.8h3.0m-1.5 -1.5v3.0M701.5 345.0h3.0m-1.5 -1.5v3.0M703.7 370.9h3.0m-1.5 -1.5v3.0M554.8 256.1h3.0m-1.5 -1.5v3.0M558.8 257.5h3.0m-1.5 -1.5v3.0M563.8 260.6h3.0m-1.5 -1.5v3.0M567.8 264.4h3.0m-1.5 -1.5v3.0M571.8 266.7h3.0m-1.5 -1.5v3.0M575.6 270.4h3.0m-1.5 -1.5v3.0M579.7 274.5h3.0m-1.5 -1.5v3.0M584.1 278.2h3.0m-1.5 -1.5v3.0M588.7 281.6h3.0m-1.5 -1.5v3.0M592.9 285.1h3.0m-1.5 -1.5v3.0M596.8 288.5h3.0m-1.5 -1.5v3.0M600.3 293.1h3.0m-1.5 -1.5v3.0M604.0 298.7h3.0m-1.5 -1.5v3.0M608.0 304.5h3.0m-1.5 -1.5v3.0M610.5 324.8h3.0m-1.5 -1.5v3.0M612.7 350.1h3.0m-1.5 -1.5v3.0M614.5 374.7h3.0m-1.5 -1.5v3.0M615.5 403.0h3.0m-1.5 -1.5v3.0M619.3 433.3h3.0m-1.5 -1.5v3.0M622.4 421.6h3.0m-1.5 -1.5v3.0M627.5 421.6h3.0m-1.5 -1.5v3.0M631.3 430.9h3.0m-1.5 -1.5v3.0M635.4 434.2h3.0m-1.5 -1.5v3.0M639.7 429.2h3.0m-1.5 -1.5v3.0M643.5 430.2h3.0m-1.5 -1.5v3.0M648.3 425.4h3.0m-1.5 -1.5v3.0M652.4 423.2h3.0m-1.5 -1.5v3.0M656.0 428.0h3.0m-1.5 -1.5v3.0M660.4 432.8h3.0m-1.5 -1.5v3.0M664.6 429.8h3.0m-1.5 -1.5v3.0M668.5 422.7h3.0m-1.5 -1.5v3.0M672.9 416.9h3.0m-1.5 -1.5v3.0M676.1 398.3h3.0m-1.5 -1.5v3.0M679.7 386.0h3.0m-1.5 -1.5v3.0M682.6 369.7h3.0m-1.5 -1.5v3.0M686.8 359.7h3.0m-1.5 -1.5v3.0M690.1 356.1h3.0m-1.5 -1.5v3.0M694.2 353.5h3.0m-1.5 -1.5v3.0M556.7 311.4h3.0m-1.5 -1.5v3.0M560.9 316.4h3.0m-1.5 -1.5v3.0M565.8 321.5h3.0m-1.5 -1.5v3.0M569.4 327.3h3.0m-1.5 -1.5v3.0M573.7 329.9h3.0m-1.5 -1.5v3.0M577.5 334.0h3.0m-1.5 -1.5v3.0M581.9 339.7h3.0m-1.5 -1.5v3.0M585.2 345.0h3.0m-1.5 -1.5v3.0M589.9 348.6h3.0m-1.5 -1.5v3.0M593.4 351.7h3.0m-1.5 -1.5v3.0M597.7 354.6h3.0m-1.5 -1.5v3.0M601.9 359.0h3.0m-1.5 -1.5v3.0M604.9 370.6h3.0m-1.5 -1.5v3.0M607.0 387.8h3.0m-1.5 -1.5v3.0M609.5 400.6h3.0m-1.5 -1.5v3.0M612.2 417.5h3.0m-1.5 -1.5v3.0M614.9 434.7h3.0m-1.5 -1.5v3.0M617.9 442.7h3.0m-1.5 -1.5v3.0M621.1 438.4h3.0m-1.5 -1.5v3.0M624.9 438.7h3.0m-1.5 -1.5v3.0M628.7 437.2h3.0m-1.5 -1.5v3.0M632.2 440.1h3.0m-1.5 -1.5v3.0M636.2 442.2h3.0m-1.5 -1.5v3.0M639.9 443.8h3.0m-1.5 -1.5v3.0M643.7 448.6h3.0m-1.5 -1.5v3.0M647.4 447.5h3.0m-1.5 -1.5v3.0M651.0 441.8h3.0m-1.5 -1.5v3.0M654.3 438.3h3.0m-1.5 -1.5v3.0M659.0 446.2h3.0m-1.5 -1.5v3.0M662.7 452.2h3.0m-1.5 -1.5v3.0M666.9 445.2h3.0m-1.5 -1.5v3.0M671.0 443.9h3.0m-1.5 -1.5v3.0M674.9 450.7h3.0m-1.5 -1.5v3.0M678.3 435.9h3.0m-1.5 -1.5v3.0M677.6 387.2h3.0m-1.5 -1.5v3.0M678.9 333.3h3.0m-1.5 -1.5v3.0M665.1 194.4h3.0m-1.5 -1.5v3.0M667.9 181.8h3.0m-1.5 -1.5v3.0M671.1 166.2h3.0m-1.5 -1.5v3.0M675.0 146.7h3.0m-1.5 -1.5v3.0M678.2 128.5h3.0m-1.5 -1.5v3.0M681.1 154.0h3.0m-1.5 -1.5v3.0M685.1 157.2h3.0m-1.5 -1.5v3.0M687.9 160.8h3.0m-1.5 -1.5v3.0M691.6 128.3h3.0m-1.5 -1.5v3.0M694.2 105.2h3.0m-1.5 -1.5v3.0M696.8 119.1h3.0m-1.5 -1.5v3.0M700.5 127.8h3.0m-1.5 -1.5v3.0M703.5 120.5h3.0m-1.5 -1.5v3.0M705.7 98.6h3.0m-1.5 -1.5v3.0M706.5 90.0h3.0m-1.5 -1.5v3.0M709.2 119.2h3.0m-1.5 -1.5v3.0M713.0 112.6h3.0m-1.5 -1.5v3.0M715.8 102.7h3.0m-1.5 -1.5v3.0M717.8 114.7h3.0m-1.5 -1.5v3.0M720.9 128.1h3.0m-1.5 -1.5v3.0M723.7 150.4h3.0m-1.5 -1.5v3.0M727.6 154.4h3.0m-1.5 -1.5v3.0M730.3 177.8h3.0m-1.5 -1.5v3.0M708.5 233.1h3.0m-1.5 -1.5v3.0M711.9 226.5h3.0m-1.5 -1.5v3.0M715.2 203.6h3.0m-1.5 -1.5v3.0M718.6 175.4h3.0m-1.5 -1.5v3.0M721.6 159.0h3.0m-1.5 -1.5v3.0M724.4 156.0h3.0m-1.5 -1.5v3.0M728.1 179.9h3.0m-1.5 -1.5v3.0M731.2 202.0h3.0m-1.5 -1.5v3.0M734.1 224.0h3.0m-1.5 -1.5v3.0M737.2 245.3h3.0m-1.5 -1.5v3.0M741.0 253.6h3.0m-1.5 -1.5v3.0M743.1 225.0h3.0m-1.5 -1.5v3.0M745.4 203.1h3.0m-1.5 -1.5v3.0M705.6 284.6h3.0m-1.5 -1.5v3.0M709.0 305.0h3.0m-1.5 -1.5v3.0M742.9 262.2h3.0m-1.5 -1.5v3.0M733.2 208.4h3.0m-1.5 -1.5v3.0M735.9 170.0h3.0m-1.5 -1.5v3.0M739.4 151.6h3.0m-1.5 -1.5v3.0M742.0 165.2h3.0m-1.5 -1.5v3.0M745.3 197.2h3.0m-1.5 -1.5v3.0M744.6 203.7h3.0m-1.5 -1.5v3.0M749.4 202.2h3.0m-1.5 -1.5v3.0M749.0 231.3h3.0m-1.5 -1.5v3.0M751.7 266.2h3.0m-1.5 -1.5v3.0M747.2 220.2h3.0m-1.5 -1.5v3.0M751.4 215.8h3.0m-1.5 -1.5v3.0M750.2 213.6h3.0m-1.5 -1.5v3.0M753.6 216.8h3.0m-1.5 -1.5v3.0M754.8 177.0h3.0m-1.5 -1.5v3.0M754.1 201.9h3.0m-1.5 -1.5v3.0M755.0 235.9h3.0m-1.5 -1.5v3.0M755.1 277.0h3.0m-1.5 -1.5v3.0M754.6 305.1h3.0m-1.5 -1.5v3.0M754.7 339.2h3.0m-1.5 -1.5v3.0M711.1 285.3h3.0m-1.5 -1.5v3.0M715.2 275.4h3.0m-1.5 -1.5v3.0M719.2 255.0h3.0m-1.5 -1.5v3.0M723.4 258.3h3.0m-1.5 -1.5v3.0M726.0 278.3h3.0m-1.5 -1.5v3.0M727.1 307.1h3.0m-1.5 -1.5v3.0M715.2 338.9h3.0m-1.5 -1.5v3.0M718.9 327.7h3.0m-1.5 -1.5v3.0M722.6 315.8h3.0m-1.5 -1.5v3.0M726.8 308.7h3.0m-1.5 -1.5v3.0M732.6 331.2h3.0m-1.5 -1.5v3.0M737.3 306.8h3.0m-1.5 -1.5v3.0M740.7 280.6h3.0m-1.5 -1.5v3.0M728.6 347.4h3.0m-1.5 -1.5v3.0M733.9 397.9h3.0m-1.5 -1.5v3.0M737.7 407.2h3.0m-1.5 -1.5v3.0M740.7 404.6h3.0m-1.5 -1.5v3.0M742.9 372.4h3.0m-1.5 -1.5v3.0M746.8 405.9h3.0m-1.5 -1.5v3.0M749.4 422.8h3.0m-1.5 -1.5v3.0M753.4 423.9h3.0m-1.5 -1.5v3.0M732.8 331.6h3.0m-1.5 -1.5v3.0M744.9 287.4h3.0m-1.5 -1.5v3.0M745.2 337.3h3.0m-1.5 -1.5v3.0M749.7 324.1h3.0m-1.5 -1.5v3.0M753.4 311.9h3.0m-1.5 -1.5v3.0M749.2 335.5h3.0m-1.5 -1.5v3.0M752.6 319.1h3.0m-1.5 -1.5v3.0M747.4 347.5h3.0m-1.5 -1.5v3.0M751.5 337.8h3.0m-1.5 -1.5v3.0M748.2 321.0h3.0m-1.5 -1.5v3.0M680.6 381.2h3.0m-1.5 -1.5v3.0M685.2 424.2h3.0m-1.5 -1.5v3.0M692.6 432.0h3.0m-1.5 -1.5v3.0M694.0 400.8h3.0m-1.5 -1.5v3.0M697.6 364.2h3.0m-1.5 -1.5v3.0M704.8 333.0h3.0m-1.5 -1.5v3.0M710.8 373.5h3.0m-1.5 -1.5v3.0M712.7 355.3h3.0m-1.5 -1.5v3.0M696.5 330.0h3.0m-1.5 -1.5v3.0"/>
<path d="M554.7 103.3h3.0m-1.5 -1.5v3.0M559.3 95.5h3.0m-1.5 -1.5v3.0M562.9 88.6h3.0m-1.5 -1.5v3.0M554.8 149.0h3.0m-1.5 -1.5v3.0M559.0 146.4h3.0m-1.5 -1.5v3.0M562.5 145.0h3.0m-1.5 -1.5v3.0M566.7 146.3h3.0m-1.5 -1.5v3.0M571.6 148.7h3.0m-1.5 -1.5v3.0M575.1 147.3h3.0m-1.5 -1.5v3.0M579.5 144.8h3.0m-1.5 -1.5v3.0M583.7 145.7h3.0m-1.5 -1.5v3.0M587.6 143.9h3.0m-1.5 -1.5v3.0M592.3 143.6h3.0m-1.5 -1.5v3.0M595.9 142.7h3.0m-1.5 -1.5v3.0M600.4 139.5h3.0m-1.5 -1.5v3.0M603.8 137.3h3.0m-1.5 -1.5v3.0M607.8 133.2h3.0m-1.5 -1.5v3.0M611.5 134.8h3.0m-1.5 -1.5v3.0M614.4 146.5h3.0m-1.5 -1.5v3.0M618.0 178.6h3.0m-1.5 -1.5v3.0M621.5 214.2h3.0m-1.5 -1.5v3.0M624.4 232.8h3.0m-1.5 -1.5v3.0M628.4 241.6h3.0m-1.5 -1.5v3.0M631.9 247.7h3.0m-1.5 -1.5v3.0M635.4 253.5h3.0m-1.5 -1.5v3.0M639.3 258.0h3.0m-1.5 -1.5v3.0M643.3 262.7h3.0m-1.5 -1.5v3.0M647.6 265.4h3.0m-1.5 -1.5v3.0M651.5 264.4h3.0m-1.5 -1.5v3.0M556.2 224.7h3.0m-1.5 -1.5v3.0M561.0 226.5h3.0m-1.5 -1.5v3.0M564.7 228.8h3.0m-1.5 -1.5v3.0M569.5 230.1h3.0m-1.5 -1.5v3.0M573.8 230.3h3.0m-1.5 -1.5v3.0M577.3 232.1h3.0m-1.5 -1.5v3.0M581.3 233.2h3.0m-1.5 -1.5v3.0M586.1 237.9h3.0m-1.5 -1.5v3.0M590.6 239.0h3.0m-1.5 -1.5v3.0M594.2 238.7h3.0m-1.5 -1.5v3.0M598.9 238.0h3.0m-1.5 -1.5v3.0M602.9 242.1h3.0m-1.5 -1.5v3.0M606.1 237.0h3.0m-1.5 -1.5v3.0M609.5 239.4h3.0m-1.5 -1.5v3.0M613.0 261.6h3.0m-1.5 -1.5v3.0M616.8 307.0h3.0m-1.5 -1.5v3.0M619.8 337.1h3.0m-1.5 -1.5v3.0M623.7 334.5h3.0m-1.5 -1.5v3.0M627.5 325.2h3.0m-1.5 -1.5v3.0M631.4 319.6h3.0m-1.5 -1.5v3.0M635.2 330.6h3.0m-1.5 -1.5v3.0M638.6 332.3h3.0m-1.5 -1.5v3.0M641.8 329.8h3.0m-1.5 -1.5v3.0M645.7 331.4h3.0m-1.5 -1.5v3.0M649.7 326.8h3.0m-1.5 -1.5v3.0M652.5 321.3h3.0m-1.5 -1.5v3.0M656.6 312.6h3.0m-1.5 -1.5v3.0M659.5 325.3h3.0m-1.5 -1.5v3.0M663.3 334.0h3.0m-1.5 -1.5v3.0M666.5 330.6h3.0m-1.5 -1.5v3.0M670.5 329.5h3.0m-1.5 -1.5v3.0M674.2 329.5h3.0m-1.5 -1.5v3.0M677.7 326.3h3.0m-1.5 -1.5v3.0M680.2 306.3h3.0m-1.5 -1.5v3.0M682.6 280.8h3.0m-1.5 -1.5v3.0M685.9 297.4h3.0m-1.5 -1.5v3.0M689.6 305.7h3.0m-1.5 -1.5v3.0M693.0 292.9h3.0m-1.5 -1.5v3.0M695.6 251.4h3.0m-1.5 -1.5v3.0M697.9 213.5h3.0m-1.5 -1.5v3.0M701.4 218.4h3.0m-1.5 -1.5v3.0M705.0 256.3h3.0m-1.5 -1.5v3.0M555.8 227.1h3.0m-1.5 -1.5v3.0M560.5 232.4h3.0m-1.5 -1.5v3.0M564.6 241.1h3.0m-1.5 -1.5v3.0M568.8 245.8h3.0m-1.5 -1.5v3.0M573.4 250.4h3.0m-1.5 -1.5v3.0M576.8 250.7h3.0m-1.5 -1.5v3.0M580.9 258.7h3.0m-1.5 -1.5v3.0M584.5 268.7h3.0m-1.5 -1.5v3.0M588.8 271.9h3.0m-1.5 -1.5v3.0M592.7 275.8h3.0m-1.5 -1.5v3.0M596.8 277.1h3.0m-1.5 -1.5v3.0M600.1 279.5h3.0m-1.5 -1.5v3.0M604.5 278.7h3.0m-1.5 -1.5v3.0M607.1 294.1h3.0m-1.5 -1.5v3.0M607.0 319.5h3.0m-1.5 -1.5v3.0M608.8 342.4h3.0m-1.5 -1.5v3.0M611.1 363.1h3.0m-1.5 -1.5v3.0M613.7 384.8h3.0m-1.5 -1.5v3.0M615.2 408.6h3.0m-1.5 -1.5v3.0M618.7 431.1h3.0m-1.5 -1.5v3.0M622.3 413.6h3.0m-1.5 -1.5v3.0M626.5 403.6h3.0m-1.5 -1.5v3.0M630.1 398.4h3.0m-1.5 -1.5v3.0M633.3 410.2h3.0m-1.5 -1.5v3.0M637.5 409.8h3.0m-1.5 -1.5v3.0M641.0 414.2h3.0m-1.5 -1.5v3.0M645.0 418.5h3.0m-1.5 -1.5v3.0M648.9 421.0h3.0m-1.5 -1.5v3.0M651.9 402.2h3.0m-1.5 -1.5v3.0M655.7 402.4h3.0m-1.5 -1.5v3.0M660.1 408.2h3.0m-1.5 -1.5v3.0M663.6 415.1h3.0m-1.5 -1.5v3.0M667.7 414.2h3.0m-1.5 -1.5v3.0M671.6 410.0h3.0m-1.5 -1.5v3.0M676.0 406.4h3.0m-1.5 -1.5v3.0M679.8 393.7h3.0m-1.5 -1.5v3.0M682.0 377.5h3.0m-1.5 -1.5v3.0M685.8 364.4h3.0m-1.5 -1.5v3.0M689.9 359.5h3.0m-1.5 -1.5v3.0M693.1 355.8h3.0m-1.5 -1.5v3.0M696.7 330.3h3.0m-1.5 -1.5v3.0M699.0 324.7h3.0m-1.5 -1.5v3.0M702.3 347.3h3.0m-1.5 -1.5v3.0M705.3 373.3h3.0m-1.5 -1.5v3.0M555.2 256.6h3.0m-1.5 -1.5v3.0M560.0 257.4h3.0m-1.5 -1.5v3.0M564.0 260.9h3.0m-1.5 -1.5v3.0M567.7 263.8h3.0m-1.5 -1.5v3.0M571.7 268.0h3.0m-1.5 -1.5v3.0M576.2 270.9h3.0m-1.5 -1.5v3.0M580.1 273.7h3.0m-1.5 -1.5v3.0M584.5 278.0h3.0m-1.5 -1.5v3.0M588.9 282.7h3.0m-1.5 -1.5v3.0M592.8 284.5h3.0m-1.5 -1.5v3.0M597.3 287.5h3.0m-1.5 -1.5v3.0M600.7 293.7h3.0m-1.5 -1.5v3.0M605.1 299.3h3.0m-1.5 -1.5v3.0M608.1 304.7h3.0m-1.5 -1.5v3.0M610.8 328.1h3.0m-1.5 -1.5v3.0M612.9 353.0h3.0m-1.5 -1.5v3.0M614.6 376.8h3.0m-1.5 -1.5v3.0M615.7 406.8h3.0m-1.5 -1.5v3.0M620.0 431.7h3.0m-1.5 -1.5v3.0M623.1 421.4h3.0m-1.5 -1.5v3.0M627.6 420.7h3.0m-1.5 -1.5v3.0M631.6 432.9h3.0m-1.5 -1.5v3.0M635.7 433.3h3.0m-1.5 -1.5v3.0M639.7 428.5h3.0m-1.5 -1.5v3.0M644.6 430.1h3.0m-1.5 -1.5v3.0M648.6 424.2h3.0m-1.5 -1.5v3.0M652.8 424.0h3.0m-1.5 -1.5v3.0M656.4 428.3h3.0m-1.5 -1.5v3.0M660.9 433.0h3.0m-1.5 -1.5v3.0M665.2 428.9h3.0m-1.5 -1.5v3.0M669.1 421.8h3.0m-1.5 -1.5v3.0M673.1 417.1h3.0m-1.5 -1.5v3.0M676.7 397.4h3.0m-1.5 -1.5v3.0M679.6 383.6h3.0m-1.5 -1.5v3.0M682.6 366.9h3.0m-1.5 -1.5v3.0M687.1 359.0h3.0m-1.5 -1.5v3.0M691.0 357.0h3.0m-1.5 -1.5v3.0M694.5 352.0h3.0m-1.5 -1.5v3.0M557.5 311.0h3.0m-1.5 -1.5v3.0M561.8 316.5h3.0m-1.5 -1.5v3.0M565.7 322.7h3.0m-1.5 -1.5v3.0M569.8 326.4h3.0m-1.5 -1.5v3.0M573.9 331.8h3.0m-1.5 -1.5v3.0M577.9 334.4h3.0m-1.5 -1.5v3.0M582.3 340.6h3.0m-1.5 -1.5v3.0M585.4 344.3h3.0m-1.5 -1.5v3.0M589.7 349.7h3.0m-1.5 -1.5v3.0M593.9 353.5h3.0m-1.5 -1.5v3.0M598.2 354.8h3.0m-1.5 -1.5v3.0M601.7 359.6h3.0m-1.5 -1.5v3.0M604.9 372.5h3.0m-1.5 -1.5v3.0M607.4 387.1h3.0m-1.5 -1.5v3.0M610.3 402.0h3.0m-1.5 -1.5v3.0M612.8 420.1h3.0m-1.5 -1.5v3.0M615.3 436.8h3.0m-1.5 -1.5v3.0M618.3 442.7h3.0m-1.5 -1.5v3.0M621.3 437.5h3.0m-1.5 -1.5v3.0M625.7 438.7h3.0m-1.5 -1.5v3.0M628.6 436.6h3.0m-1.5 -1.5v3.0M632.8 442.0h3.0m-1.5 -1.5v3.0M636.1 442.5h3.0m-1.5 -1.5v3.0M640.1 442.9h3.0m-1.5 -1.5v3.0M644.1 450.5h3.0m-1.5 -1.5v3.0M648.0 446.4h3.0m-1.5 -1.5v3.0M651.0 439.3h3.0m-1.5 -1.5v3.0M655.1 439.2h3.0m-1.5 -1.5v3.0M659.1 447.5h3.0m-1.5 -1.5v3.0M663.6 452.6h3.0m-1.5 -1.5v3.0M667.3 443.9h3.0m-1.5 -1.5v3.0M671.9 442.8h3.0m-1.5 -1.5v3.0M675.2 453.1h3.0m-1.5 -1.5v3.0M678.4 432.7h3.0m-1.5 -1.5v3.0M677.6 380.9h3.0m-1.5 -1.5v3.0M681.5 333.2h3.0m-1.5 -1.5v3.0M665.3 194.2h3.0m-1.5 -1.5v3.0M668.3 179.7h3.0m-1.5 -1.5v3.0M671.8 164.5h3.0m-1.5 -1.5v3.0M675.2 142.6h3.0m-1.5 -1.5v3.0M678.7 126.6h3.0m-1.5 -1.5v3.0M682.1 160.2h3.0m-1.5 -1.5v3.0M685.6 159.2h3.0m-1.5 -1.5v3.0M688.5 156.5h3.0m-1.5 -1.5v3.0M691.5 122.8h3.0m-1.5 -1.5v3.0M695.1 103.3h3.0m-1.5 -1.5v3.0M696.9 116.2h3.0m-1.5 -1.5v3.0M701.0 125.9h3.0m-1.5 -1.5v3.0M703.9 119.9h3.0m-1.5 -1.5v3.0M705.8 96.5h3.0m-1.5 -1.5v3.0M706.3 95.4h3.0m-1.5 -1.5v3.0M709.2 119.2h3.0m-1.5 -1.5v3.0M713.4 113.0h3.0m-1.5 -1.5v3.0M716.7 102.2h3.0m-1.5 -1.5v3.0M718.3 114.3h3.0m-1.5 -1.5v3.0M721.6 131.4h3.0m-1.5 -1.5v3.0M724.2 151.1h3.0m-1.5 -1.5v3.0M728.1 154.8h3.0m-1.5 -1.5v3.0M730.4 180.5h3.0m-1.5 -1.5v3.0M708.9 236.8h3.0m-1.5 -1.5v3.0M711.8 222.1h3.0m-1.5 -1.5v3.0M715.4 197.3h3.0m-1.5 -1.5v3.0M719.0 171.9h3.0m-1.5 -1.5v3.0M722.5 157.0h3.0m-1.5 -1.5v3.0M725.4 160.6h3.0m-1.5 -1.5v3.0M728.0 182.4h3.0m-1.5 -1.5v3.0M731.6 204.1h3.0m-1.5 -1.5v3.0M733.9 228.8h3.0m-1.5 -1.5v3.0M737.2 247.7h3.0m-1.5 -1.5v3.0M740.7 252.0h3.0m-1.5 -1.5v3.0M742.7 220.8h3.0m-1.5 -1.5v3.0M745.3 201.2h3.0m-1.5 -1.5v3.0M706.4 290.8h3.0m-1.5 -1.5v3.0M709.3 305.8h3.0m-1.5 -1.5v3.0M743.3 262.2h3.0m-1.5 -1.5v3.0M734.3 204.8h3.0m-1.5 -1.5v3.0M736.6 169.0h3.0m-1.5 -1.5v3.0M739.2 147.6h3.0m-1.5 -1.5v3.0M742.6 169.9h3.0m-1.5 -1.5v3.0M745.1 199.2h3.0m-1.5 -1.5v3.0M744.8 205.6h3.0m-1.5 -1.5v3.0M749.1 206.9h3.0m-1.5 -1.5v3.0M749.2 237.7h3.0m-1.5 -1.5v3.0M752.4 269.7h3.0m-1.5 -1.5v3.0M747.3 222.2h3.0m-1.5 -1.5v3.0M751.7 220.5h3.0m-1.5 -1.5v3.0M749.8 218.7h3.0m-1.5 -1.5v3.0M753.7 220.4h3.0m-1.5 -1.5v3.0M754.7 179.5h3.0m-1.5 -1.5v3.0M754.9 203.9h3.0m-1.5 -1.5v3.0M755.1 239.8h3.0m-1.5 -1.5v3.0M753.9 273.0h3.0m-1.5 -1.5v3.0M754.7 308.0h3.0m-1.5 -1.5v3.0M755.0 344.0h3.0m-1.5 -1.5v3.0M711.9 283.1h3.0m-1.5 -1.5v3.0M715.1 274.3h3.0m-1.5 -1.5v3.0M719.7 256.8h3.0m-1.5 -1.5v3.0M723.9 259.5h3.0m-1.5 -1.5v3.0M726.5 280.1h3.0m-1.5 -1.5v3.0M726.8 308.7h3.0m-1.5 -1.5v3.0M716.0 336.8h3.0m-1.5 -1.5v3.0M719.1 325.5h3.0m-1.5 -1.5v3.0M723.5 314.6h3.0m-1.5 -1.5v3.0M726.4 308.1h3.0m-1.5 -1.5v3.0M734.4 337.3h3.0m-1.5 -1.5v3.0M738.4 304.8h3.0m-1.5 -1.5v3.0M740.8 273.1h3.0m-1.5 -1.5v3.0M729.8 352.0h3.0m-1.5 -1.5v3.0M735.6 401.4h3.0m-1.5 -1.5v3.0M737.3 407.7h3.0m-1.5 -1.5v3.0M740.3 404.5h3.0m-1.5 -1.5v3.0M743.0 368.0h3.0m-1.5 -1.5v3.0M747.3 413.4h3.0m-1.5 -1.5v3.0M749.8 421.3h3.0m-1.5 -1.5v3.0M753.7 423.8h3.0m-1.5 -1.5v3.0M733.6 335.0h3.0m-1.5 -1.5v3.0M746.0 296.3h3.0m-1.5 -1.5v3.0M746.2 336.4h3.0m-1.5 -1.5v3.0M750.1 323.1h3.0m-1.5 -1.5v3.0M753.8 309.5h3.0m-1.5 -1.5v3.0M749.2 333.5h3.0m-1.5 -1.5v3.0M753.2 318.4h3.0m-1.5 -1.5v3.0M747.8 348.6h3.0m-1.5 -1.5v3.0M752.4 336.8h3.0m-1.5 -1.5v3.0M749.3 322.5h3.0m-1.5 -1.5v3.0M679.8 388.4h3.0m-1.5 -1.5v3.0M687.0 431.3h3.0m-1.5 -1.5v3.0M692.2 426.5h3.0m-1.5 -1.5v3.0M694.3 398.0h3.0m-1.5 -1.5v3.0M696.9 359.9h3.0m-1.5 -1.5v3.0M707.4 348.9h3.0m-1.5 -1.5v3.0M710.9 376.6h3.0m-1.5 -1.5v3.0M712.9 360.8h3.0m-1.5 -1.5v3.0"/>
<path d="M555.2 102.2h3.0m-1.5 -1.5v3.0M559.2 94.3h3.0m-1.5 -1.5v3.0M563.6 87.0h3.0m-1.5 -1.5v3.0M555.1 148.2h3.0m-1.5 -1.5v3.0M559.1 146.2h3.0m-1.5 -1.5v3.0M563.3 146.3h3.0m-1.5 -1.5v3.0M567.3 147.0h3.0m-1.5 -1.5v3.0M572.1 148.8h3.0m-1.5 -1.5v3.0M575.6 147.8h3.0m-1.5 -1.5v3.0M580.5 144.4h3.0m-1.5 -1.5v3.0M584.5 145.5h3.0m-1.5 -1.5v3.0M588.3 144.6h3.0m-1.5 -1.5v3.0M592.6 144.1h3.0m-1.5 -1.5v3.0M596.7 141.0h3.0m-1.5 -1.5v3.0M600.4 139.8h3.0m-1.5 -1.5v3.0M604.6 137.9h3.0m-1.5 -1.5v3.0M607.8 133.5h3.0m-1.5 -1.5v3.0M611.9 135.3h3.0m-1.5 -1.5v3.0M614.7 149.5h3.0m-1.5 -1.5v3.0M618.9 184.6h3.0m-1.5 -1.5v3.0M621.4 217.4h3.0m-1.5 -1.5v3.0M625.2 234.2h3.0m-1.5 -1.5v3.0M628.9 243.4h3.0m-1.5 -1.5v3.0M632.1 248.3h3.0m-1.5 -1.5v3.0M636.2 254.9h3.0m-1.5 -1.5v3.0M640.5 259.1h3.0m-1.5 -1.5v3.0M643.6 263.1h3.0m-1.5 -1.5v3.0M648.2 265.8h3.0m-1.5 -1.5v3.0M651.7 263.5h3.0m-1.5 -1.5v3.0M556.7 225.8h3.0m-1.5 -1.5v3.0M560.9 226.9h3.0m-1.5 -1.5v3.0M565.7 229.1h3.0m-1.5 -1.5v3.0M570.1 231.5h3.0m-1.5 -1.5v3.0M574.3 231.0h3.0m-1.5 -1.5v3.0M577.6 232.1h3.0m-1.5 -1.5v3.0M581.7 235.1h3.0m-1.5 -1.5v3.0M586.5 237.3h3.0m-1.5 -1.5v3.0M590.8 239.2h3.0m-1.5 -1.5v3.0M594.8 238.7h3.0m-1.5 -1.5v3.0M599.0 239.3h3.0m-1.5 -1.5v3.0M603.1 241.8h3.0m-1.5 -1.5v3.0M606.4 236.3h3.0m-1.5 -1.5v3.0M609.9 240.0h3.0m-1.5 -1.5v3.0M614.0 267.8h3.0m-1.5 -1.5v3.0M617.6 311.4h3.0m-1.5 -1.5v3.0M620.3 338.8h3.0m-1.5 -1.5v3.0M624.1 333.8h3.0m-1.5 -1.5v3.0M627.3 324.2h3.0m-1.5 -1.5v3.0M631.6 322.0h3.0m-1.5 -1.5v3.0M635.1 332.1h3.0m-1.5 -1.5v3.0M638.8 331.9h3.0m-1.5 -1.5v3.0M642.1 329.5h3.0m-1.5 -1.5v3.0M646.2 332.0h3.0m-1.5 -1.5v3.0M649.7 327.3h3.0m-1.5 -1.5v3.0M653.6 318.9h3.0m-1.5 -1.5v3.0M656.7 314.0h3.0m-1.5 -1.5v3.0M660.0 325.9h3.0m-1.5 -1.5v3.0M663.8 333.4h3.0m-1.5 -1.5v3.0M667.5 330.7h3.0m-1.5 -1.5v3.0M670.6 330.2h3.0m-1.5 -1.5v3.0M674.7 329.8h3.0m-1.5 -1.5v3.0M678.4 326.3h3.0m-1.5 -1.5v3.0M680.4 301.2h3.0m-1.5 -1.5v3.0M683.0 284.4h3.0m-1.5 -1.5v3.0M685.9 297.9h3.0m-1.5 -1.5v3.0M689.6 306.7h3.0m-1.5 -1.5v3.0M693.2 288.4h3.0m-1.5 -1.5v3.0M695.3 247.5h3.0m-1.5 -1.5v3.0M699.1 208.8h3.0m-1.5 -1.5v3.0M702.1 223.4h3.0m-1.5 -1.5v3.0M705.2 259.9h3.0m-1.5 -1.5v3.0M556.4 228.9h3.0m-1.5 -1.5v3.0M560.5 233.7h3.0m-1.5 -1.5v3.0M565.3 242.1h3.0m-1.5 -1.5v3.0M569.0 246.1h3.0m-1.5 -1.5v3.0M573.1 249.5h3.0m-1.5 -1.5v3.0M577.1 251.3h3.0m-1.5 -1.5v3.0M581.5 259.0h3.0m-1.5 -1.5v3.0M585.1 269.8h3.0m-1.5 -1.5v3.0M589.1 272.3h3.0m-1.5 -1.5v3.0M593.4 276.1h3.0m-1.5 -1.5v3.0M596.7 276.8h3.0m-1.5 -1.5v3.0M600.6 279.1h3.0m-1.5 -1.5v3.0M604.9 278.4h3.0m-1.5 -1.5v3.0M607.0 297.0h3.0m-1.5 -1.5v3.0M607.5 323.1h3.0m-1.5 -1.5v3.0M609.4 345.4h3.0m-1.5 -1.5v3.0M611.3 365.8h3.0m-1.5 -1.5v3.0M613.5 388.5h3.0m-1.5 -1.5v3.0M615.8 411.7h3.0m-1.5 -1.5v3.0M619.3 433.1h3.0m-1.5 -1.5v3.0M622.1 408.7h3.0m-1.5 -1.5v3.0M626.4 401.2h3.0m-1.5 -1.5v3.0M630.5 398.7h3.0m-1.5 -1.5v3.0M634.4 410.0h3.0m-1.5 -1.5v3.0M637.7 410.6h3.0m-1.5 -1.5v3.0M641.5 413.6h3.0m-1.5 -1.5v3.0M645.6 421.5h3.0m-1.5 -1.5v3.0M649.3 419.8h3.0m-1.5 -1.5v3.0M653.0 401.9h3.0m-1.5 -1.5v3.0M656.1 404.0h3.0m-1.5 -1.5v3.0M660.6 407.4h3.0m-1.5 -1.5v3.0M664.0 416.3h3.0m-1.5 -1.5v3.0M668.7 413.7h3.0m-1.5 -1.5v3.0M672.1 409.0h3.0m-1.5 -1.5v3.0M676.3 404.8h3.0m-1.5 -1.5v3.0M679.7 389.4h3.0m-1.5 -1.5v3.0M682.0 374.6h3.0m-1.5 -1.5v3.0M686.1 363.7h3.0m-1.5 -1.5v3.0M689.7 357.0h3.0m-1.5 -1.5v3.0M693.9 354.4h3.0m-1.5 -1.5v3.0M696.7 324.0h3.0m-1.5 -1.5v3.0M699.7 324.8h3.0m-1.5 -1.5v3.0M702.3 349.2h3.0m-1.5 -1.5v3.0M705.4 376.3h3.0m-1.5 -1.5v3.0M555.6 256.7h3.0m-1.5 -1.5v3.0M560.4 258.1h3.0m-1.5 -1.5v3.0M564.2 262.5h3.0m-1.5 -1.5v3.0M568.7 264.8h3.0m-1.5 -1.5v3.0M572.4 267.2h3.0m-1.5 -1.5v3.0M576.4 271.5h3.0m-1.5 -1.5v3.0M581.2 274.5h3.0m-1.5 -1.5v3.0M585.1 278.5h3.0m-1.5 -1.5v3.0M589.7 282.0h3.0m-1.5 -1.5v3.0M593.6 284.8h3.0m-1.5 -1.5v3.0M597.6 288.5h3.0m-1.5 -1.5v3.0M601.9 294.3h3.0m-1.5 -1.5v3.0M605.3 300.0h3.0m-1.5 -1.5v3.0M609.2 306.9h3.0m-1.5 -1.5v3.0M611.4 330.5h3.0m-1.5 -1.5v3.0M613.1 356.7h3.0m-1.5 -1.5v3.0M614.6 380.6h3.0m-1.5 -1.5v3.0M616.4 409.3h3.0m-1.5 -1.5v3.0M620.1 430.0h3.0m-1.5 -1.5v3.0M623.8 421.9h3.0m-1.5 -1.5v3.0M628.5 422.0h3.0m-1.5 -1.5v3.0M632.4 432.5h3.0m-1.5 -1.5v3.0M636.5 432.9h3.0m-1.5 -1.5v3.0M640.9 429.7h3.0m-1.5 -1.5v3.0M645.0 428.7h3.0m-1.5 -1.5v3.0M649.5 423.7h3.0m-1.5 -1.5v3.0M653.2 423.8h3.0m-1.5 -1.5v3.0M657.5 429.1h3.0m-1.5 -1.5v3.0M661.7 433.6h3.0m-1.5 -1.5v3.0M665.8 427.6h3.0m-1.5 -1.5v3.0M669.4 421.5h3.0m-1.5 -1.5v3.0M673.9 415.9h3.0m-1.5 -1.5v3.0M676.9 395.8h3.0m-1.5 -1.5v3.0M680.7 384.0h3.0m-1.5 -1.5v3.0M683.8 366.5h3.0m-1.5 -1.5v3.0M687.5 360.3h3.0m-1.5 -1.5v3.0M691.0 355.7h3.0m-1.5 -1.5v3.0M553.5 307.8h3.0m-1.5 -1.5v3.0M557.9 312.3h3.0m-1.5 -1.5v3.0M562.4 316.9h3.0m-1.5 -1.5v3.0M566.8 323.9h3.0m-1.5 -1.5v3.0M570.6 327.9h3.0m-1.5 -1.5v3.0M574.1 330.6h3.0m-1.5 -1.5v3.0M578.6 335.6h3.0m-1.5 -1.5v3.0M582.8 340.6h3.0m-1.5 -1.5v3.0M586.5 345.3h3.0m-1.5 -1.5v3.0M590.3 348.8h3.0m-1.5 -1.5v3.0M594.5 353.6h3.0m-1.5 -1.5v3.0M598.3 355.7h3.0m-1.5 -1.5v3.0M602.4 360.5h3.0m-1.5 -1.5v3.0M605.6 373.3h3.0m-1.5 -1.5v3.0M608.1 388.1h3.0m-1.5 -1.5v3.0M610.4 403.8h3.0m-1.5 -1.5v3.0M613.0 422.0h3.0m-1.5 -1.5v3.0M615.8 439.5h3.0m-1.5 -1.5v3.0M618.0 443.2h3.0m-1.5 -1.5v3.0M621.9 436.7h3.0m-1.5 -1.5v3.0M626.2 439.5h3.0m-1.5 -1.5v3.0M628.9 436.9h3.0m-1.5 -1.5v3.0M632.9 440.8h3.0m-1.5 -1.5v3.0M636.6 443.0h3.0m-1.5 -1.5v3.0M640.4 443.2h3.0m-1.5 -1.5v3.0M644.7 450.7h3.0m-1.5 -1.5v3.0M648.3 445.4h3.0m-1.5 -1.5v3.0M652.0 438.8h3.0m-1.5 -1.5v3.0M655.3 439.0h3.0m-1.5 -1.5v3.0M659.5 447.5h3.0m-1.5 -1.5v3.0M664.1 452.2h3.0m-1.5 -1.5v3.0M667.9 442.4h3.0m-1.5 -1.5v3.0M672.2 443.5h3.0m-1.5 -1.5v3.0M675.9 448.4h3.0m-1.5 -1.5v3.0M679.2 426.8h3.0m-1.5 -1.5v3.0M677.6 370.6h3.0m-1.5 -1.5v3.0M681.2 329.3h3.0m-1.5 -1.5v3.0M665.4 192.1h3.0m-1.5 -1.5v3.0M668.9 176.5h3.0m-1.5 -1.5v3.0M672.5 163.0h3.0m-1.5 -1.5v3.0M675.5 141.5h3.0m-1.5 -1.5v3.0M678.9 129.4h3.0m-1.5 -1.5v3.0M682.1 163.2h3.0m-1.5 -1.5v3.0M685.5 160.2h3.0m-1.5 -1.5v3.0M688.7 154.1h3.0m-1.5 -1.5v3.0M691.9 121.0h3.0m-1.5 -1.5v3.0M695.3 99.8h3.0m-1.5 -1.5v3.0M698.2 114.5h3.0m-1.5 -1.5v3.0M700.6 123.0h3.0m-1.5 -1.5v3.0M703.5 114.1h3.0m-1.5 -1.5v3.0M706.6 93.9h3.0m-1.5 -1.5v3.0M706.3 101.3h3.0m-1.5 -1.5v3.0M709.6 117.8h3.0m-1.5 -1.5v3.0M713.3 111.7h3.0m-1.5 -1.5v3.0M717.2 102.6h3.0m-1.5 -1.5v3.0M719.0 115.1h3.0m-1.5 -1.5v3.0M721.5 138.3h3.0m-1.5 -1.5v3.0M725.0 151.3h3.0m-1.5 -1.5v3.0M728.2 156.1h3.0m-1.5 -1.5v3.0M729.5 184.7h3.0m-1.5 -1.5v3.0M708.9 239.6h3.0m-1.5 -1.5v3.0M712.5 219.0h3.0m-1.5 -1.5v3.0M715.8 193.5h3.0m-1.5 -1.5v3.0M719.5 170.5h3.0m-1.5 -1.5v3.0M722.9 154.6h3.0m-1.5 -1.5v3.0M725.6 164.6h3.0m-1.5 -1.5v3.0M728.4 185.3h3.0m-1.5 -1.5v3.0M731.8 206.7h3.0m-1.5 -1.5v3.0M734.6 232.3h3.0m-1.5 -1.5v3.0M737.4 248.9h3.0m-1.5 -1.5v3.0M741.6 249.9h3.0m-1.5 -1.5v3.0M743.3 217.7h3.0m-1.5 -1.5v3.0M745.8 199.3h3.0m-1.5 -1.5v3.0M707.1 294.2h3.0m-1.5 -1.5v3.0M740.4 253.6h3.0m-1.5 -1.5v3.0M743.5 264.1h3.0m-1.5 -1.5v3.0M734.3 199.0h3.0m-1.5 -1.5v3.0M736.6 166.2h3.0m-1.5 -1.5v3.0M740.1 142.7h3.0m-1.5 -1.5v3.0M742.8 173.3h3.0m-1.5 -1.5v3.0M745.7 200.6h3.0m-1.5 -1.5v3.0M745.5 207.0h3.0m-1.5 -1.5v3.0M748.6 209.8h3.0m-1.5 -1.5v3.0M749.7 242.6h3.0m-1.5 -1.5v3.0M753.2 272.4h3.0m-1.5 -1.5v3.0M747.7 225.2h3.0m-1.5 -1.5v3.0M752.2 224.9h3.0m-1.5 -1.5v3.0M750.2 222.8h3.0m-1.5 -1.5v3.0M754.0 226.5h3.0m-1.5 -1.5v3.0M755.1 183.3h3.0m-1.5 -1.5v3.0M755.1 206.5h3.0m-1.5 -1.5v3.0M755.5 245.9h3.0m-1.5 -1.5v3.0M754.2 276.7h3.0m-1.5 -1.5v3.0M754.7 313.6h3.0m-1.5 -1.5v3.0M708.5 300.6h3.0m-1.5 -1.5v3.0M711.9 281.5h3.0m-1.5 -1.5v3.0M716.2 270.2h3.0m-1.5 -1.5v3.0M719.9 257.2h3.0m-1.5 -1.5v3.0M724.3 260.9h3.0m-1.5 -1.5v3.0M726.1 285.9h3.0m-1.5 -1.5v3.0M721.2 275.8h3.0m-1.5 -1.5v3.0M716.4 334.5h3.0m-1.5 -1.5v3.0M719.4 324.4h3.0m-1.5 -1.5v3.0M724.1 312.6h3.0m-1.5 -1.5v3.0M728.9 308.9h3.0m-1.5 -1.5v3.0M735.2 340.8h3.0m-1.5 -1.5v3.0M738.6 306.0h3.0m-1.5 -1.5v3.0M740.6 266.0h3.0m-1.5 -1.5v3.0M731.2 360.1h3.0m-1.5 -1.5v3.0M735.7 401.0h3.0m-1.5 -1.5v3.0M738.5 408.5h3.0m-1.5 -1.5v3.0M741.2 402.8h3.0m-1.5 -1.5v3.0M744.5 372.4h3.0m-1.5 -1.5v3.0M747.1 414.7h3.0m-1.5 -1.5v3.0M750.7 423.1h3.0m-1.5 -1.5v3.0M752.9 424.6h3.0m-1.5 -1.5v3.0M734.2 338.0h3.0m-1.5 -1.5v3.0M745.6 301.1h3.0m-1.5 -1.5v3.0M746.6 333.8h3.0m-1.5 -1.5v3.0M750.2 320.5h3.0m-1.5 -1.5v3.0M754.2 308.7h3.0m-1.5 -1.5v3.0M749.8 330.9h3.0m-1.5 -1.5v3.0M753.6 315.5h3.0m-1.5 -1.5v3.0M748.5 349.6h3.0m-1.5 -1.5v3.0M752.1 334.4h3.0m-1.5 -1.5v3.0M749.3 326.3h3.0m-1.5 -1.5v3.0M678.4 393.7h3.0m-1.5 -1.5v3.0M688.0 433.8h3.0m-1.5 -1.5v3.0M691.9 422.7h3.0m-1.5 -1.5v3.0M695.0 393.2h3.0m-1.5 -1.5v3.0M697.2 354.7h3.0m-1.5 -1.5v3.0M708.0 352.3h3.0m-1.5 -1.5v3.0M711.0 383.1h3.0m-1.5 -1.5v3.0M713.5 364.7h3.0m-1.5 -1.5v3.0"/>
<path d="M555.6 100.7h3.0m-1.5 -1.5v3.0M559.8 94.7h3.0m-1.5 -1.5v3.0M564.4 86.6h3.0m-1.5 -1.5v3.0M555.5 148.1h3.0m-1.5 -1.5v3.0M560.1 146.6h3.0m-1.5 -1.5v3.0M563.5 145.6h3.0m-1.5 -1.5v3.0M568.1 146.8h3.0m-1.5 -1.5v3.0M572.2 148.0h3.0m-1.5 -1.5v3.0M576.6 146.1h3.0m-1.5 -1.5v3.0M580.3 145.9h3.0m-1.5 -1.5v3.0M584.8 144.4h3.0m-1.5 -1.5v3.0M589.4 144.1h3.0m-1.5 -1.5v3.0M592.6 143.7h3.0m-1.5 -1.5v3.0M596.7 140.7h3.0m-1.5 -1.5v3.0M600.8 139.4h3.0m-1.5 -1.5v3.0M604.9 136.9h3.0m-1.5 -1.5v3.0M608.5 134.0h3.0m-1.5 -1.5v3.0M612.2 135.3h3.0m-1.5 -1.5v3.0M615.2 153.7h3.0m-1.5 -1.5v3.0M618.6 189.4h3.0m-1.5 -1.5v3.0M622.5 219.8h3.0m-1.5 -1.5v3.0M625.2 234.9h3.0m-1.5 -1.5v3.0M629.1 242.6h3.0m-1.5 -1.5v3.0M632.5 249.1h3.0m-1.5 -1.5v3.0M636.4 255.1h3.0m-1.5 -1.5v3.0M640.5 259.1h3.0m-1.5 -1.5v3.0M644.5 263.6h3.0m-1.5 -1.5v3.0M648.7 266.3h3.0m-1.5 -1.5v3.0M553.2 220.5h3.0m-1.5 -1.5v3.0M557.6 225.7h3.0m-1.5 -1.5v3.0M562.0 227.0h3.0m-1.5 -1.5v3.0M566.1 228.8h3.0m-1.5 -1.5v3.0M569.8 230.7h3.0m-1.5 -1.5v3.0M574.8 231.4h3.0m-1.5 -1.5v3.0M578.8 231.0h3.0m-1.5 -1.5v3.0M582.4 235.8h3.0m-1.5 -1.5v3.0M587.1 238.3h3.0m-1.5 -1.5v3.0M591.3 239.4h3.0m-1.5 -1.5v3.0M595.3 239.0h3.0m-1.5 -1.5v3.0M599.8 238.9h3.0m-1.5 -1.5v3.0M603.4 244.0h3.0m-1.5 -1.5v3.0M606.4 236.4h3.0m-1.5 -1.5v3.0M610.6 240.8h3.0m-1.5 -1.5v3.0M614.2 272.1h3.0m-1.5 -1.5v3.0M618.3 315.3h3.0m-1.5 -1.5v3.0M620.7 337.9h3.0m-1.5 -1.5v3.0M624.2 332.3h3.0m-1.5 -1.5v3.0M628.0 324.3h3.0m-1.5 -1.5v3.0M631.7 322.1h3.0m-1.5 -1.5v3.0M636.2 333.7h3.0m-1.5 -1.5v3.0M639.6 330.9h3.0m-1.5 -1.5v3.0M643.2 328.4h3.0m-1.5 -1.5v3.0M646.2 331.4h3.0m-1.5 -1.5v3.0M650.5 326.7h3.0m-1.5 -1.5v3.0M653.7 318.6h3.0m-1.5 -1.5v3.0M657.6 316.1h3.0m-1.5 -1.5v3.0M660.4 326.9h3.0m-1.5 -1.5v3.0M663.9 334.8h3.0m-1.5 -1.5v3.0M667.4 328.5h3.0m-1.5 -1.5v3.0M671.6 328.6h3.0m-1.5 -1.5v3.0M674.9 330.7h3.0m-1.5 -1.5v3.0M678.6 323.3h3.0m-1.5 -1.5v3.0M680.8 298.1h3.0m-1.5 -1.5v3.0M682.8 285.5h3.0m-1.5 -1.5v3.0M686.5 300.0h3.0m-1.5 -1.5v3.0M690.6 306.5h3.0m-1.5 -1.5v3.0M693.6 282.0h3.0m-1.5 -1.5v3.0M695.6 243.0h3.0m-1.5 -1.5v3.0M699.2 205.0h3.0m-1.5 -1.5v3.0M702.2 229.9h3.0m-1.5 -1.5v3.0M706.0 261.7h3.0m-1.5 -1.5v3.0M557.2 229.8h3.0m-1.5 -1.5v3.0M561.5 235.9h3.0m-1.5 -1.5v3.0M565.6 242.8h3.0m-1.5 -1.5v3.0M570.2 247.7h3.0m-1.5 -1.5v3.0M573.7 249.0h3.0m-1.5 -1.5v3.0M577.8 253.0h3.0m-1.5 -1.5v3.0M582.2 260.1h3.0m-1.5 -1.5v3.0M585.5 270.4h3.0m-1.5 -1.5v3.0M590.1 272.2h3.0m-1.5 -1.5v3.0M593.5 275.9h3.0m-1.5 -1.5v3.0M597.7 277.3h3.0m-1.5 -1.5v3.0M601.9 280.5h3.0m-1.5 -1.5v3.0M604.9 278.5h3.0m-1.5 -1.5v3.0M606.6 299.6h3.0m-1.5 -1.5v3.0M607.5 325.3h3.0m-1.5 -1.5v3.0M609.6 347.9h3.0m-1.5 -1.5v3.0M611.4 369.0h3.0m-1.5 -1.5v3.0M614.3 390.9h3.0m-1.5 -1.5v3.0M616.2 414.2h3.0m-1.5 -1.5v3.0M620.0 431.3h3.0m-1.5 -1.5v3.0M622.8 409.4h3.0m-1.5 -1.5v3.0M627.2 399.1h3.0m-1.5 -1.5v3.0M630.4 401.0h3.0m-1.5 -1.5v3.0M634.6 409.4h3.0m-1.5 -1.5v3.0M638.4 412.1h3.0m-1.5 -1.5v3.0M642.2 412.9h3.0m-1.5 -1.5v3.0M645.8 421.5h3.0m-1.5 -1.5v3.0M649.8 416.5h3.0m-1.5 -1.5v3.0M653.6 400.6h3.0m-1.5 -1.5v3.0M656.7 404.8h3.0m-1.5 -1.5v3.0M660.9 409.1h3.0m-1.5 -1.5v3.0M664.8 415.9h3.0m-1.5 -1.5v3.0M668.9 412.3h3.0m-1.5 -1.5v3.0M672.8 409.0h3.0m-1.5 -1.5v3.0M677.1 403.8h3.0m-1.5 -1.5v3.0M679.5 387.3h3.0m-1.5 -1.5v3.0M682.3 373.7h3.0m-1.5 -1.5v3.0M686.5 361.9h3.0m-1.5 -1.5v3.0M690.2 356.8h3.0m-1.5 -1.5v3.0M694.5 351.7h3.0m-1.5 -1.5v3.0M696.7 319.6h3.0m-1.5 -1.5v3.0M699.9 328.8h3.0m-1.5 -1.5v3.0M702.6 351.8h3.0m-1.5 -1.5v3.0M705.1 379.9h3.0m-1.5 -1.5v3.0M556.7 255.8h3.0m-1.5 -1.5v3.0M561.2 258.1h3.0m-1.5 -1.5v3.0M565.2 261.8h3.0m-1.5 -1.5v3.0M569.2 264.5h3.0m-1.5 -1.5v3.0M572.9 268.3h3.0m-1.5 -1.5v3.0M577.7 271.3h3.0m-1.5 -1.5v3.0M581.1 275.7h3.0m-1.5 -1.5v3.0M585.8 280.2h3.0m-1.5 -1.5v3.0M589.8 282.3h3.0m-1.5 -1.5v3.0M594.0 284.7h3.0m-1.5 -1.5v3.0M598.2 289.1h3.0m-1.5 -1.5v3.0M601.8 295.0h3.0m-1.5 -1.5v3.0M605.5 300.9h3.0m-1.5 -1.5v3.0M609.3 309.7h3.0m-1.5 -1.5v3.0M612.2 334.7h3.0m-1.5 -1.5v3.0M613.4 358.6h3.0m-1.5 -1.5v3.0M615.0 384.0h3.0m-1.5 -1.5v3.0M617.1 413.7h3.0m-1.5 -1.5v3.0M620.5 427.0h3.0m-1.5 -1.5v3.0M624.7 421.1h3.0m-1.5 -1.5v3.0M629.0 422.9h3.0m-1.5 -1.5v3.0M632.7 435.2h3.0m-1.5 -1.5v3.0M637.1 430.7h3.0m-1.5 -1.5v3.0M641.4 430.4h3.0m-1.5 -1.5v3.0M645.4 426.9h3.0m-1.5 -1.5v3.0M649.6 424.8h3.0m-1.5 -1.5v3.0M653.5 425.6h3.0m-1.5 -1.5v3.0M657.7 431.5h3.0m-1.5 -1.5v3.0M662.4 433.4h3.0m-1.5 -1.5v3.0M666.2 426.6h3.0m-1.5 -1.5v3.0M670.1 419.7h3.0m-1.5 -1.5v3.0M674.5 415.7h3.0m-1.5 -1.5v3.0M678.0 394.2h3.0m-1.5 -1.5v3.0M680.3 382.4h3.0m-1.5 -1.5v3.0M684.3 365.9h3.0m-1.5 -1.5v3.0M687.5 359.2h3.0m-1.5 -1.5v3.0M691.8 355.8h3.0m-1.5 -1.5v3.0M554.4 308.0h3.0m-1.5 -1.5v3.0M558.5 312.4h3.0m-1.5 -1.5v3.0M563.3 318.7h3.0m-1.5 -1.5v3.0M566.7 324.3h3.0m-1.5 -1.5v3.0M571.3 328.5h3.0m-1.5 -1.5v3.0M574.9 331.3h3.0m-1.5 -1.5v3.0M579.4 335.1h3.0m-1.5 -1.5v3.0M583.2 340.4h3.0m-1.5 -1.5v3.0M586.5 346.2h3.0m-1.5 -1.5v3.0M591.0 349.6h3.0m-1.5 -1.5v3.0M595.2 352.9h3.0m-1.5 -1.5v3.0M598.6 356.4h3.0m-1.5 -1.5v3.0M603.2 362.2h3.0m-1.5 -1.5v3.0M605.5 375.8h3.0m-1.5 -1.5v3.0M608.3 390.6h3.0m-1.5 -1.5v3.0M611.1 406.5h3.0m-1.5 -1.5v3.0M613.0 424.6h3.0m-1.5 -1.5v3.0M616.5 438.5h3.0m-1.5 -1.5v3.0M618.9 442.0h3.0m-1.5 -1.5v3.0M622.1 437.4h3.0m-1.5 -1.5v3.0M625.8 438.4h3.0m-1.5 -1.5v3.0M629.9 437.5h3.0m-1.5 -1.5v3.0M633.2 441.7h3.0m-1.5 -1.5v3.0M637.3 442.8h3.0m-1.5 -1.5v3.0M641.4 443.3h3.0m-1.5 -1.5v3.0M645.1 452.9h3.0m-1.5 -1.5v3.0M648.1 444.6h3.0m-1.5 -1.5v3.0M652.7 438.4h3.0m-1.5 -1.5v3.0M656.1 440.0h3.0m-1.5 -1.5v3.0M660.0 448.7h3.0m-1.5 -1.5v3.0M664.3 451.0h3.0m-1.5 -1.5v3.0M668.3 441.6h3.0m-1.5 -1.5v3.0M672.7 444.1h3.0m-1.5 -1.5v3.0M676.2 445.6h3.0m-1.5 -1.5v3.0M679.2 419.1h3.0m-1.5 -1.5v3.0M678.4 362.7h3.0m-1.5 -1.5v3.0M663.1 199.2h3.0m-1.5 -1.5v3.0M666.3 190.2h3.0m-1.5 -1.5v3.0M669.3 173.3h3.0m-1.5 -1.5v3.0M673.0 159.6h3.0m-1.5 -1.5v3.0M676.2 137.9h3.0m-1.5 -1.5v3.0M679.1 130.4h3.0m-1.5 -1.5v3.0M682.6 167.8h3.0m-1.5 -1.5v3.0M685.8 160.2h3.0m-1.5 -1.5v3.0M689.2 150.0h3.0m-1.5 -1.5v3.0M692.3 116.8h3.0m-1.5 -1.5v3.0M695.2 102.5h3.0m-1.5 -1.5v3.0M698.7 110.7h3.0m-1.5 -1.5v3.0M701.5 122.5h3.0m-1.5 -1.5v3.0M704.0 109.6h3.0m-1.5 -1.5v3.0M706.4 92.7h3.0m-1.5 -1.5v3.0M706.6 105.8h3.0m-1.5 -1.5v3.0M710.0 115.1h3.0m-1.5 -1.5v3.0M714.2 111.0h3.0m-1.5 -1.5v3.0M717.4 105.0h3.0m-1.5 -1.5v3.0M719.3 117.2h3.0m-1.5 -1.5v3.0M721.8 143.9h3.0m-1.5 -1.5v3.0M725.2 151.6h3.0m-1.5 -1.5v3.0M728.5 156.3h3.0m-1.5 -1.5v3.0M705.9 229.7h3.0m-1.5 -1.5v3.0M709.3 244.1h3.0m-1.5 -1.5v3.0M712.9 216.3h3.0m-1.5 -1.5v3.0M716.3 190.0h3.0m-1.5 -1.5v3.0M719.3 167.9h3.0m-1.5 -1.5v3.0M722.7 150.6h3.0m-1.5 -1.5v3.0M725.7 166.8h3.0m-1.5 -1.5v3.0M728.9 186.9h3.0m-1.5 -1.5v3.0M731.9 207.4h3.0m-1.5 -1.5v3.0M734.3 234.5h3.0m-1.5 -1.5v3.0M738.5 249.9h3.0m-1.5 -1.5v3.0M741.7 245.7h3.0m-1.5 -1.5v3.0M743.3 214.1h3.0m-1.5 -1.5v3.0M746.9 197.8h3.0m-1.5 -1.5v3.0M706.5 299.0h3.0m-1.5 -1.5v3.0M740.6 255.9h3.0m-1.5 -1.5v3.0M744.2 265.3h3.0m-1.5 -1.5v3.0M733.7 193.1h3.0m-1.5 -1.5v3.0M737.1 164.5h3.0m-1.5 -1.5v3.0M740.7 148.4h3.0m-1.5 -1.5v3.0M742.6 187.8h3.0m-1.5 -1.5v3.0M746.1 202.9h3.0m-1.5 -1.5v3.0M747.4 191.5h3.0m-1.5 -1.5v3.0M748.0 213.2h3.0m-1.5 -1.5v3.0M749.7 247.4h3.0m-1.5 -1.5v3.0M753.6 275.1h3.0m-1.5 -1.5v3.0M748.7 228.2h3.0m-1.5 -1.5v3.0M752.9 228.5h3.0m-1.5 -1.5v3.0M750.9 225.9h3.0m-1.5 -1.5v3.0M753.8 229.8h3.0m-1.5 -1.5v3.0M754.3 191.1h3.0m-1.5 -1.5v3.0M755.3 211.2h3.0m-1.5 -1.5v3.0M755.4 251.0h3.0m-1.5 -1.5v3.0M755.2 285.5h3.0m-1.5 -1.5v3.0M755.4 318.9h3.0m-1.5 -1.5v3.0M708.9 297.4h3.0m-1.5 -1.5v3.0M712.7 282.1h3.0m-1.5 -1.5v3.0M716.5 264.9h3.0m-1.5 -1.5v3.0M720.2 258.1h3.0m-1.5 -1.5v3.0M724.6 262.6h3.0m-1.5 -1.5v3.0M726.6 290.9h3.0m-1.5 -1.5v3.0M720.6 270.3h3.0m-1.5 -1.5v3.0M716.4 332.4h3.0m-1.5 -1.5v3.0M720.2 323.7h3.0m-1.5 -1.5v3.0M724.9 311.7h3.0m-1.5 -1.5v3.0M729.1 311.7h3.0m-1.5 -1.5v3.0M735.4 331.7h3.0m-1.5 -1.5v3.0M738.6 303.4h3.0m-1.5 -1.5v3.0M742.0 261.4h3.0m-1.5 -1.5v3.0M731.3 367.5h3.0m-1.5 -1.5v3.0M735.6 402.2h3.0m-1.5 -1.5v3.0M738.2 409.0h3.0m-1.5 -1.5v3.0M741.7 399.5h3.0m-1.5 -1.5v3.0M744.7 370.0h3.0m-1.5 -1.5v3.0M747.5 417.9h3.0m-1.5 -1.5v3.0M751.5 422.3h3.0m-1.5 -1.5v3.0M753.3 421.4h3.0m-1.5 -1.5v3.0M735.6 336.2h3.0m-1.5 -1.5v3.0M745.8 308.3h3.0m-1.5 -1.5v3.0M747.4 333.2h3.0m-1.5 -1.5v3.0M750.7 318.9h3.0m-1.5 -1.5v3.0M746.5 342.1h3.0m-1.5 -1.5v3.0M750.8 329.8h3.0m-1.5 -1.5v3.0M754.5 311.0h3.0m-1.5 -1.5v3.0M748.6 347.3h3.0m-1.5 -1.5v3.0M753.2 333.5h3.0m-1.5 -1.5v3.0M750.1 326.1h3.0m-1.5 -1.5v3.0M681.2 396.6h3.0m-1.5 -1.5v3.0M689.1 435.0h3.0m-1.5 -1.5v3.0M692.9 418.5h3.0m-1.5 -1.5v3.0M695.7 387.2h3.0m-1.5 -1.5v3.0M703.6 307.9h3.0m-1.5 -1.5v3.0M706.8 355.9h3.0m-1.5 -1.5v3.0M711.5 387.0h3.0m-1.5 -1.5v3.0M693.4 347.6h3.0m-1.5 -1.5v3.0"/>
<path d="M556.4 101.1h3.0m-1.5 -1.5v3.0M560.2 93.3h3.0m-1.5 -1.5v3.0M564.5 85.3h3.0m-1.5 -1.5v3.0M556.7 147.6h3.0m-1.5 -1.5v3.0M560.7 145.2h3.0m-1.5 -1.5v3.0M564.5 146.5h3.0m-1.5 -1.5v3.0M568.1 147.4h3.0m-1.5 -1.5v3.0M572.5 148.3h3.0m-1.5 -1.5v3.0M576.8 146.1h3.0m-1.5 -1.5v3.0M581.3 144.5h3.0m-1.5 -1.5v3.0M585.8 145.6h3.0m-1.5 -1.5v3.0M589.9 145.0h3.0m-1.5 -1.5v3.0M593.9 143.8h3.0m-1.5 -1.5v3.0M597.9 141.6h3.0m-1.5 -1.5v3.0M601.6 138.0h3.0m-1.5 -1.5v3.0M605.4 135.1h3.0m-1.5 -1.5v3.0M608.6 133.7h3.0m-1.5 -1.5v3.0M612.7 136.3h3.0m-1.5 -1.5v3.0M616.3 157.4h3.0m-1.5 -1.5v3.0M619.3 194.7h3.0m-1.5 -1.5v3.0M622.3 221.1h3.0m-1.5 -1.5v3.0M626.2 237.4h3.0m-1.5 -1.5v3.0M629.7 243.6h3.0m-1.5 -1.5v3.0M633.4 250.7h3.0m-1.5 -1.5v3.0M637.2 254.3h3.0m-1.5 -1.5v3.0M641.1 260.3h3.0m-1.5 -1.5v3.0M644.7 263.9h3.0m-1.5 -1.5v3.0M648.9 265.5h3.0m-1.5 -1.5v3.0M554.0 222.6h3.0m-1.5 -1.5v3.0M558.2 226.1h3.0m-1.5 -1.5v3.0M562.6 228.7h3.0m-1.5 -1.5v3.0M566.1 229.5h3.0m-1.5 -1.5v3.0M571.0 231.7h3.0m-1.5 -1.5v3.0M574.8 231.8h3.0m-1.5 -1.5v3.0M579.4 232.5h3.0m-1.5 -1.5v3.0M582.9 235.1h3.0m-1.5 -1.5v3.0M587.6 238.9h3.0m-1.5 -1.5v3.0M591.5 239.1h3.0m-1.5 -1.5v3.0M596.1 240.0h3.0m-1.5 -1.5v3.0M599.8 239.3h3.0m-1.5 -1.5v3.0M604.2 242.6h3.0m-1.5 -1.5v3.0M607.0 236.4h3.0m-1.5 -1.5v3.0M610.6 243.0h3.0m-1.5 -1.5v3.0M615.0 279.1h3.0m-1.5 -1.5v3.0M617.9 322.2h3.0m-1.5 -1.5v3.0M621.0 338.1h3.0m-1.5 -1.5v3.0M624.5 330.4h3.0m-1.5 -1.5v3.0M628.3 322.6h3.0m-1.5 -1.5v3.0M632.7 324.0h3.0m-1.5 -1.5v3.0M636.2 333.1h3.0m-1.5 -1.5v3.0M639.5 331.7h3.0m-1.5 -1.5v3.0M643.3 327.4h3.0m-1.5 -1.5v3.0M646.5 331.9h3.0m-1.5 -1.5v3.0M650.2 324.9h3.0m-1.5 -1.5v3.0M653.8 317.0h3.0m-1.5 -1.5v3.0M657.3 316.6h3.0m-1.5 -1.5v3.0M661.3 329.2h3.0m-1.5 -1.5v3.0M664.9 334.8h3.0m-1.5 -1.5v3.0M668.5 330.5h3.0m-1.5 -1.5v3.0M671.5 328.5h3.0m-1.5 -1.5v3.0M675.3 330.5h3.0m-1.5 -1.5v3.0M679.1 321.3h3.0m-1.5 -1.5v3.0M681.3 294.3h3.0m-1.5 -1.5v3.0M684.0 289.4h3.0m-1.5 -1.5v3.0M687.4 300.9h3.0m-1.5 -1.5v3.0M691.2 304.6h3.0m-1.5 -1.5v3.0M693.7 275.0h3.0m-1.5 -1.5v3.0M696.0 239.0h3.0m-1.5 -1.5v3.0M699.4 202.8h3.0m-1.5 -1.5v3.0M702.6 235.1h3.0m-1.5 -1.5v3.0M553.8 225.4h3.0m-1.5 -1.5v3.0M557.7 229.5h3.0m-1.5 -1.5v3.0M562.1 235.7h3.0m-1.5 -1.5v3.0M566.3 242.9h3.0m-1.5 -1.5v3.0M570.7 248.3h3.0m-1.5 -1.5v3.0M574.8 250.2h3.0m-1.5 -1.5v3.0M578.4 253.2h3.0m-1.5 -1.5v3.0M582.6 261.5h3.0m-1.5 -1.5v3.0M586.0 269.6h3.0m-1.5 -1.5v3.0M590.5 272.4h3.0m-1.5 -1.5v3.0M593.8 277.2h3.0m-1.5 -1.5v3.0M597.7 275.6h3.0m-1.5 -1.5v3.0M602.2 279.6h3.0m-1.5 -1.5v3.0M605.4 281.1h3.0m-1.5 -1.5v3.0M606.3 303.3h3.0m-1.5 -1.5v3.0M608.1 327.2h3.0m-1.5 -1.5v3.0M610.1 350.3h3.0m-1.5 -1.5v3.0M612.1 372.7h3.0m-1.5 -1.5v3.0M614.1 393.9h3.0m-1.5 -1.5v3.0M616.1 416.9h3.0m-1.5 -1.5v3.0M619.7 428.6h3.0m-1.5 -1.5v3.0M623.4 407.9h3.0m-1.5 -1.5v3.0M627.7 399.7h3.0m-1.5 -1.5v3.0M631.2 402.8h3.0m-1.5 -1.5v3.0M635.2 408.0h3.0m-1.5 -1.5v3.0M639.2 413.9h3.0m-1.5 -1.5v3.0M642.1 411.7h3.0m-1.5 -1.5v3.0M646.4 421.3h3.0m-1.5 -1.5v3.0M649.9 411.6h3.0m-1.5 -1.5v3.0M653.2 400.9h3.0m-1.5 -1.5v3.0M657.1 405.3h3.0m-1.5 -1.5v3.0M661.3 410.5h3.0m-1.5 -1.5v3.0M665.2 416.3h3.0m-1.5 -1.5v3.0M668.9 413.0h3.0m-1.5 -1.5v3.0M673.5 407.5h3.0m-1.5 -1.5v3.0M677.5 401.8h3.0m-1.5 -1.5v3.0M680.6 385.8h3.0m-1.5 -1.5v3.0M683.0 371.9h3.0m-1.5 -1.5v3.0M686.5 363.1h3.0m-1.5 -1.5v3.0M690.5 356.0h3.0m-1.5 -1.5v3.0M694.9 347.9h3.0m-1.5 -1.5v3.0M696.9 321.9h3.0m-1.5 -1.5v3.0M699.8 332.6h3.0m-1.5 -1.5v3.0M703.3 353.4h3.0m-1.5 -1.5v3.0M704.9 382.0h3.0m-1.5 -1.5v3.0M557.0 256.2h3.0m-1.5 -1.5v3.0M561.6 259.1h3.0m-1.5 -1.5v3.0M565.1 262.0h3.0m-1.5 -1.5v3.0M569.8 265.4h3.0m-1.5 -1.5v3.0M573.1 268.6h3.0m-1.5 -1.5v3.0M577.9 271.9h3.0m-1.5 -1.5v3.0M582.1 276.1h3.0m-1.5 -1.5v3.0M586.0 280.1h3.0m-1.5 -1.5v3.0M590.4 283.8h3.0m-1.5 -1.5v3.0M594.4 285.9h3.0m-1.5 -1.5v3.0M598.5 290.8h3.0m-1.5 -1.5v3.0M602.5 295.3h3.0m-1.5 -1.5v3.0M606.2 301.5h3.0m-1.5 -1.5v3.0M609.6 313.9h3.0m-1.5 -1.5v3.0M611.6 337.1h3.0m-1.5 -1.5v3.0M613.5 361.4h3.0m-1.5 -1.5v3.0M614.9 388.1h3.0m-1.5 -1.5v3.0M617.4 418.6h3.0m-1.5 -1.5v3.0M621.1 425.5h3.0m-1.5 -1.5v3.0M624.8 421.2h3.0m-1.5 -1.5v3.0M629.6 422.2h3.0m-1.5 -1.5v3.0M633.1 436.3h3.0m-1.5 -1.5v3.0M637.2 429.0h3.0m-1.5 -1.5v3.0M641.5 430.0h3.0m-1.5 -1.5v3.0M646.5 427.6h3.0m-1.5 -1.5v3.0M650.3 424.5h3.0m-1.5 -1.5v3.0M654.2 424.9h3.0m-1.5 -1.5v3.0M658.5 431.4h3.0m-1.5 -1.5v3.0M662.5 432.0h3.0m-1.5 -1.5v3.0M666.5 427.3h3.0m-1.5 -1.5v3.0M671.2 419.2h3.0m-1.5 -1.5v3.0M674.7 412.1h3.0m-1.5 -1.5v3.0M678.7 393.7h3.0m-1.5 -1.5v3.0M680.1 378.1h3.0m-1.5 -1.5v3.0M684.6 365.0h3.0m-1.5 -1.5v3.0M688.8 359.0h3.0m-1.5 -1.5v3.0M692.8 355.2h3.0m-1.5 -1.5v3.0M555.1 309.3h3.0m-1.5 -1.5v3.0M558.7 312.8h3.0m-1.5 -1.5v3.0M563.5 319.9h3.0m-1.5 -1.5v3.0M567.8 324.9h3.0m-1.5 -1.5v3.0M571.9 329.4h3.0m-1.5 -1.5v3.0M575.7 331.4h3.0m-1.5 -1.5v3.0M579.3 336.2h3.0m-1.5 -1.5v3.0M583.5 342.1h3.0m-1.5 -1.5v3.0M587.3 346.6h3.0m-1.5 -1.5v3.0M591.5 350.6h3.0m-1.5 -1.5v3.0M595.9 354.3h3.0m-1.5 -1.5v3.0M599.2 356.2h3.0m-1.5 -1.5v3.0M603.2 363.1h3.0m-1.5 -1.5v3.0M606.3 378.1h3.0m-1.5 -1.5v3.0M608.9 391.1h3.0m-1.5 -1.5v3.0M611.5 409.1h3.0m-1.5 -1.5v3.0M613.7 425.8h3.0m-1.5 -1.5v3.0M616.5 440.5h3.0m-1.5 -1.5v3.0M619.3 441.1h3.0m-1.5 -1.5v3.0M622.9 437.0h3.0m-1.5 -1.5v3.0M626.7 439.5h3.0m-1.5 -1.5v3.0M630.2 438.2h3.0m-1.5 -1.5v3.0M634.3 442.1h3.0m-1.5 -1.5v3.0M638.0 442.4h3.0m-1.5 -1.5v3.0M641.9 444.9h3.0m-1.5 -1.5v3.0M645.3 450.7h3.0m-1.5 -1.5v3.0M648.6 444.4h3.0m-1.5 -1.5v3.0M652.8 437.3h3.0m-1.5 -1.5v3.0M657.1 439.9h3.0m-1.5 -1.5v3.0M661.1 448.3h3.0m-1.5 -1.5v3.0M665.0 449.6h3.0m-1.5 -1.5v3.0M669.4 441.6h3.0m-1.5 -1.5v3.0M672.8 446.5h3.0m-1.5 -1.5v3.0M677.2 441.7h3.0m-1.5 -1.5v3.0M679.2 413.3h3.0m-1.5 -1.5v3.0M682.2 354.9h3.0m-1.5 -1.5v3.0M663.3 198.5h3.0m-1.5 -1.5v3.0M666.7 188.8h3.0m-1.5 -1.5v3.0M669.4 171.1h3.0m-1.5 -1.5v3.0M673.0 159.2h3.0m-1.5 -1.5v3.0M676.4 136.2h3.0m-1.5 -1.5v3.0M680.0 133.4h3.0m-1.5 -1.5v3.0M683.3 164.6h3.0m-1.5 -1.5v3.0M686.7 161.8h3.0m-1.5 -1.5v3.0M689.7 146.2h3.0m-1.5 -1.5v3.0M693.1 114.3h3.0m-1.5 -1.5v3.0M695.2 105.5h3.0m-1.5 -1.5v3.0M698.6 107.5h3.0m-1.5 -1.5v3.0M701.9 121.7h3.0m-1.5 -1.5v3.0M704.2 106.2h3.0m-1.5 -1.5v3.0M705.3 91.3h3.0m-1.5 -1.5v3.0M707.3 107.8h3.0m-1.5 -1.5v3.0M710.4 113.0h3.0m-1.5 -1.5v3.0M714.8 108.5h3.0m-1.5 -1.5v3.0M716.9 108.3h3.0m-1.5 -1.5v3.0M719.8 117.6h3.0m-1.5 -1.5v3.0M722.7 145.8h3.0m-1.5 -1.5v3.0M725.6 151.3h3.0m-1.5 -1.5v3.0M728.6 160.5h3.0m-1.5 -1.5v3.0M706.9 228.5h3.0m-1.5 -1.5v3.0M710.3 246.4h3.0m-1.5 -1.5v3.0M712.8 214.1h3.0m-1.5 -1.5v3.0M716.7 187.0h3.0m-1.5 -1.5v3.0M719.7 165.0h3.0m-1.5 -1.5v3.0M723.3 150.5h3.0m-1.5 -1.5v3.0M726.1 170.6h3.0m-1.5 -1.5v3.0M729.9 189.8h3.0m-1.5 -1.5v3.0M731.9 210.1h3.0m-1.5 -1.5v3.0M735.0 237.3h3.0m-1.5 -1.5v3.0M738.8 251.8h3.0m-1.5 -1.5v3.0M742.3 240.9h3.0m-1.5 -1.5v3.0M743.9 212.9h3.0m-1.5 -1.5v3.0M746.6 194.7h3.0m-1.5 -1.5v3.0M707.1 299.8h3.0m-1.5 -1.5v3.0M741.2 256.0h3.0m-1.5 -1.5v3.0M741.7 268.3h3.0m-1.5 -1.5v3.0M733.9 185.7h3.0m-1.5 -1.5v3.0M737.9 162.6h3.0m-1.5 -1.5v3.0M741.0 153.3h3.0m-1.5 -1.5v3.0M742.9 189.4h3.0m-1.5 -1.5v3.0M747.0 205.1h3.0m-1.5 -1.5v3.0M747.9 193.3h3.0m-1.5 -1.5v3.0M747.3 216.7h3.0m-1.5 -1.5v3.0M750.1 252.9h3.0m-1.5 -1.5v3.0M753.5 276.7h3.0m-1.5 -1.5v3.0M748.1 231.4h3.0m-1.5 -1.5v3.0M752.7 232.6h3.0m-1.5 -1.5v3.0M751.2 229.8h3.0m-1.5 -1.5v3.0M754.3 235.4h3.0m-1.5 -1.5v3.0M753.9 192.6h3.0m-1.5 -1.5v3.0M754.9 215.3h3.0m-1.5 -1.5v3.0M754.8 255.1h3.0m-1.5 -1.5v3.0M755.2 289.6h3.0m-1.5 -1.5v3.0M754.7 323.9h3.0m-1.5 -1.5v3.0M709.8 294.8h3.0m-1.5 -1.5v3.0M713.3 280.0h3.0m-1.5 -1.5v3.0M716.9 262.2h3.0m-1.5 -1.5v3.0M720.9 258.5h3.0m-1.5 -1.5v3.0M724.6 265.8h3.0m-1.5 -1.5v3.0M727.0 293.8h3.0m-1.5 -1.5v3.0M720.8 267.4h3.0m-1.5 -1.5v3.0M716.6 332.0h3.0m-1.5 -1.5v3.0M720.5 323.3h3.0m-1.5 -1.5v3.0M725.3 310.5h3.0m-1.5 -1.5v3.0M730.3 312.1h3.0m-1.5 -1.5v3.0M735.9 325.2h3.0m-1.5 -1.5v3.0M739.6 300.6h3.0m-1.5 -1.5v3.0M742.7 258.3h3.0m-1.5 -1.5v3.0M731.3 371.8h3.0m-1.5 -1.5v3.0M735.6 403.6h3.0m-1.5 -1.5v3.0M739.0 408.7h3.0m-1.5 -1.5v3.0M741.8 393.6h3.0m-1.5 -1.5v3.0M746.0 376.7h3.0m-1.5 -1.5v3.0M747.7 418.3h3.0m-1.5 -1.5v3.0M751.0 423.0h3.0m-1.5 -1.5v3.0M753.9 421.3h3.0m-1.5 -1.5v3.0M734.0 332.5h3.0m-1.5 -1.5v3.0M746.4 316.4h3.0m-1.5 -1.5v3.0M747.3 330.9h3.0m-1.5 -1.5v3.0M751.1 317.0h3.0m-1.5 -1.5v3.0M747.2 340.7h3.0m-1.5 -1.5v3.0M751.3 328.7h3.0m-1.5 -1.5v3.0M745.3 346.4h3.0m-1.5 -1.5v3.0M749.2 345.3h3.0m-1.5 -1.5v3.0M753.7 331.8h3.0m-1.5 -1.5v3.0M750.2 324.4h3.0m-1.5 -1.5v3.0M682.9 405.0h3.0m-1.5 -1.5v3.0M689.2 438.1h3.0m-1.5 -1.5v3.0M693.1 416.1h3.0m-1.5 -1.5v3.0M696.2 382.1h3.0m-1.5 -1.5v3.0M703.5 313.0h3.0m-1.5 -1.5v3.0M708.9 358.8h3.0m-1.5 -1.5v3.0M715.6 342.7h3.0m-1.5 -1.5v3.0M693.7 341.5h3.0m-1.5 -1.5v3.0"/>
<path d="M556.7 99.1h3.0m-1.5 -1.5v3.0M561.1 92.0h3.0m-1.5 -1.5v3.0M565.3 84.8h3.0m-1.5 -1.5v3.0M557.3 146.9h3.0m-1.5 -1.5v3.0M560.8 145.8h3.0m-1.5 -1.5v3.0M565.3 146.6h3.0m-1.5 -1.5v3.0M568.9 147.8h3.0m-1.5 -1.5v3.0M573.0 147.2h3.0m-1.5 -1.5v3.0M577.4 145.3h3.0m-1.5 -1.5v3.0M581.9 144.3h3.0m-1.5 -1.5v3.0M586.3 145.2h3.0m-1.5 -1.5v3.0M590.4 143.8h3.0m-1.5 -1.5v3.0M594.2 143.0h3.0m-1.5 -1.5v3.0M597.7 141.2h3.0m-1.5 -1.5v3.0M601.6 137.9h3.0m-1.5 -1.5v3.0M605.8 133.1h3.0m-1.5 -1.5v3.0M609.3 133.2h3.0m-1.5 -1.5v3.0M613.4 137.9h3.0m-1.5 -1.5v3.0M616.1 161.2h3.0m-1.5 -1.5v3.0M619.5 200.5h3.0m-1.5 -1.5v3.0M622.7 224.6h3.0m-1.5 -1.5v3.0M626.1 239.3h3.0m-1.5 -1.5v3.0M629.8 244.3h3.0m-1.5 -1.5v3.0M633.3 251.2h3.0m-1.5 -1.5v3.0M637.5 253.4h3.0m-1.5 -1.5v3.0M641.5 261.1h3.0m-1.5 -1.5v3.0M645.1 263.8h3.0m-1.5 -1.5v3.0M649.9 264.8h3.0m-1.5 -1.5v3.0M554.8 224.1h3.0m-1.5 -1.5v3.0M558.6 225.1h3.0m-1.5 -1.5v3.0M562.9 227.9h3.0m-1.5 -1.5v3.0M567.2 230.4h3.0m-1.5 -1.5v3.0M571.2 230.4h3.0m-1.5 -1.5v3.0M575.5 230.3h3.0m-1.5 -1.5v3.0M579.9 232.1h3.0m-1.5 -1.5v3.0M583.6 235.4h3.0m-1.5 -1.5v3.0M587.8 238.1h3.0m-1.5 -1.5v3.0M592.1 240.4h3.0m-1.5 -1.5v3.0M596.7 239.0h3.0m-1.5 -1.5v3.0M600.4 240.0h3.0m-1.5 -1.5v3.0M604.8 240.3h3.0m-1.5 -1.5v3.0M607.8 234.9h3.0m-1.5 -1.5v3.0M611.5 244.8h3.0m-1.5 -1.5v3.0M615.3 282.5h3.0m-1.5 -1.5v3.0M618.0 325.8h3.0m-1.5 -1.5v3.0M622.2 338.6h3.0m-1.5 -1.5v3.0M625.0 329.7h3.0m-1.5 -1.5v3.0M629.4 321.3h3.0m-1.5 -1.5v3.0M632.5 325.4h3.0m-1.5 -1.5v3.0M636.7 334.2h3.0m-1.5 -1.5v3.0M640.0 330.0h3.0m-1.5 -1.5v3.0M644.0 328.6h3.0m-1.5 -1.5v3.0M647.3 330.3h3.0m-1.5 -1.5v3.0M650.7 323.9h3.0m-1.5 -1.5v3.0M654.2 315.5h3.0m-1.5 -1.5v3.0M658.0 318.8h3.0m-1.5 -1.5v3.0M661.4 329.0h3.0m-1.5 -1.5v3.0M664.8 333.6h3.0m-1.5 -1.5v3.0M668.6 329.2h3.0m-1.5 -1.5v3.0M672.2 328.9h3.0m-1.5 -1.5v3.0M675.7 330.2h3.0m-1.5 -1.5v3.0M679.1 320.0h3.0m-1.5 -1.5v3.0M681.3 292.6h3.0m-1.5 -1.5v3.0M684.7 293.8h3.0m-1.5 -1.5v3.0M687.4 301.8h3.0m-1.5 -1.5v3.0M691.8 303.5h3.0m-1.5 -1.5v3.0M693.9 269.4h3.0m-1.5 -1.5v3.0M696.6 233.9h3.0m-1.5 -1.5v3.0M700.3 204.2h3.0m-1.5 -1.5v3.0M703.8 239.9h3.0m-1.5 -1.5v3.0M553.6 226.2h3.0m-1.5 -1.5v3.0M558.1 230.4h3.0m-1.5 -1.5v3.0M562.7 236.6h3.0m-1.5 -1.5v3.0M566.5 244.4h3.0m-1.5 -1.5v3.0M570.6 248.4h3.0m-1.5 -1.5v3.0M575.1 250.0h3.0m-1.5 -1.5v3.0M579.4 254.5h3.0m-1.5 -1.5v3.0M582.3 262.8h3.0m-1.5 -1.5v3.0M586.9 270.5h3.0m-1.5 -1.5v3.0M590.4 273.3h3.0m-1.5 -1.5v3.0M594.7 277.3h3.0m-1.5 -1.5v3.0M598.3 275.5h3.0m-1.5 -1.5v3.0M602.2 279.7h3.0m-1.5 -1.5v3.0M606.2 282.9h3.0m-1.5 -1.5v3.0M606.1 306.2h3.0m-1.5 -1.5v3.0M607.8 330.7h3.0m-1.5 -1.5v3.0M610.0 353.8h3.0m-1.5 -1.5v3.0M612.4 375.1h3.0m-1.5 -1.5v3.0M614.1 397.7h3.0m-1.5 -1.5v3.0M616.4 419.4h3.0m-1.5 -1.5v3.0M620.9 425.8h3.0m-1.5 -1.5v3.0M624.5 408.6h3.0m-1.5 -1.5v3.0M628.3 398.8h3.0m-1.5 -1.5v3.0M631.8 405.3h3.0m-1.5 -1.5v3.0M636.0 406.8h3.0m-1.5 -1.5v3.0M639.7 416.3h3.0m-1.5 -1.5v3.0M643.3 412.2h3.0m-1.5 -1.5v3.0M646.9 420.6h3.0m-1.5 -1.5v3.0M650.1 409.9h3.0m-1.5 -1.5v3.0M654.2 402.4h3.0m-1.5 -1.5v3.0M657.7 404.4h3.0m-1.5 -1.5v3.0M661.6 411.5h3.0m-1.5 -1.5v3.0M665.7 416.0h3.0m-1.5 -1.5v3.0M670.0 412.1h3.0m-1.5 -1.5v3.0M673.3 407.0h3.0m-1.5 -1.5v3.0M677.6 397.8h3.0m-1.5 -1.5v3.0M680.3 385.8h3.0m-1.5 -1.5v3.0M683.5 370.3h3.0m-1.5 -1.5v3.0M687.9 361.0h3.0m-1.5 -1.5v3.0M691.6 357.4h3.0m-1.5 -1.5v3.0M695.2 345.3h3.0m-1.5 -1.5v3.0M696.9 322.9h3.0m-1.5 -1.5v3.0M700.5 335.4h3.0m-1.5 -1.5v3.0M703.5 358.2h3.0m-1.5 -1.5v3.0M553.2 254.1h3.0m-1.5 -1.5v3.0M557.3 256.4h3.0m-1.5 -1.5v3.0M561.5 258.9h3.0m-1.5 -1.5v3.0M566.1 263.1h3.0m-1.5 -1.5v3.0M570.3 266.7h3.0m-1.5 -1.5v3.0M574.1 269.0h3.0m-1.5 -1.5v3.0M578.4 271.5h3.0m-1.5 -1.5v3.0M582.8 275.9h3.0m-1.5 -1.5v3.0M587.0 279.8h3.0m-1.5 -1.5v3.0M591.3 284.1h3.0m-1.5 -1.5v3.0M594.6 285.7h3.0m-1.5 -1.5v3.0M599.1 290.3h3.0m-1.5 -1.5v3.0M602.7 296.0h3.0m-1.5 -1.5v3.0M606.9 302.2h3.0m-1.5 -1.5v3.0M609.6 316.8h3.0m-1.5 -1.5v3.0M611.9 340.9h3.0m-1.5 -1.5v3.0M613.7 365.3h3.0m-1.5 -1.5v3.0M615.1 391.7h3.0m-1.5 -1.5v3.0M617.9 421.5h3.0m-1.5 -1.5v3.0M621.3 424.5h3.0m-1.5 -1.5v3.0M625.8 420.6h3.0m-1.5 -1.5v3.0M629.5 422.3h3.0m-1.5 -1.5v3.0M633.4 436.9h3.0m-1.5 -1.5v3.0M638.2 427.8h3.0m-1.5 -1.5v3.0M641.9 431.0h3.0m-1.5 -1.5v3.0M646.5 427.0h3.0m-1.5 -1.5v3.0M650.6 423.2h3.0m-1.5 -1.5v3.0M654.5 425.4h3.0m-1.5 -1.5v3.0M658.6 432.7h3.0m-1.5 -1.5v3.0M663.2 431.1h3.0m-1.5 -1.5v3.0M667.1 426.3h3.0m-1.5 -1.5v3.0M671.6 419.0h3.0m-1.5 -1.5v3.0M674.6 410.2h3.0m-1.5 -1.5v3.0M678.5 389.7h3.0m-1.5 -1.5v3.0M680.7 374.4h3.0m-1.5 -1.5v3.0M684.9 363.2h3.0m-1.5 -1.5v3.0M688.8 357.7h3.0m-1.5 -1.5v3.0M692.6 356.0h3.0m-1.5 -1.5v3.0M555.1 308.9h3.0m-1.5 -1.5v3.0M560.1 314.8h3.0m-1.5 -1.5v3.0M564.1 319.4h3.0m-1.5 -1.5v3.0M567.8 324.6h3.0m-1.5 -1.5v3.0M572.0 329.1h3.0m-1.5 -1.5v3.0M576.3 333.4h3.0m-1.5 -1.5v3.0M580.1 336.7h3.0m-1.5 -1.5v3.0M583.7 342.7h3.0m-1.5 -1.5v3.0M587.9 347.0h3.0m-1.5 -1.5v3.0M591.8 351.1h3.0m-1.5 -1.5v3.0M595.6 354.8h3.0m-1.5 -1.5v3.0M600.2 356.7h3.0m-1.5 -1.5v3.0M604.1 365.8h3.0m-1.5 -1.5v3.0M606.0 379.1h3.0m-1.5 -1.5v3.0M608.7 393.4h3.0m-1.5 -1.5v3.0M611.1 410.8h3.0m-1.5 -1.5v3.0M614.1 429.6h3.0m-1.5 -1.5v3.0M617.0 441.1h3.0m-1.5 -1.5v3.0M619.7 440.5h3.0m-1.5 -1.5v3.0M623.4 437.1h3.0m-1.5 -1.5v3.0M626.9 438.8h3.0m-1.5 -1.5v3.0M630.9 440.2h3.0m-1.5 -1.5v3.0M634.9 441.5h3.0m-1.5 -1.5v3.0M638.3 442.1h3.0m-1.5 -1.5v3.0M642.1 446.2h3.0m-1.5 -1.5v3.0M645.8 451.0h3.0m-1.5 -1.5v3.0M649.5 443.0h3.0m-1.5 -1.5v3.0M653.5 436.6h3.0m-1.5 -1.5v3.0M657.0 439.6h3.0m-1.5 -1.5v3.0M661.6 450.1h3.0m-1.5 -1.5v3.0M666.0 447.3h3.0m-1.5 -1.5v3.0M669.6 443.3h3.0m-1.5 -1.5v3.0M673.6 447.1h3.0m-1.5 -1.5v3.0M677.0 441.5h3.0m-1.5 -1.5v3.0M678.8 407.1h3.0m-1.5 -1.5v3.0M678.6 354.8h3.0m-1.5 -1.5v3.0M663.7 197.8h3.0m-1.5 -1.5v3.0M666.9 187.6h3.0m-1.5 -1.5v3.0M670.5 170.2h3.0m-1.5 -1.5v3.0M673.8 156.0h3.0m-1.5 -1.5v3.0M677.0 132.7h3.0m-1.5 -1.5v3.0M680.0 136.2h3.0m-1.5 -1.5v3.0M683.4 162.3h3.0m-1.5 -1.5v3.0M686.9 163.0h3.0m-1.5 -1.5v3.0M690.3 141.6h3.0m-1.5 -1.5v3.0M692.7 111.1h3.0m-1.5 -1.5v3.0M695.6 108.8h3.0m-1.5 -1.5v3.0M698.9 114.0h3.0m-1.5 -1.5v3.0M702.1 122.0h3.0m-1.5 -1.5v3.0M704.0 102.7h3.0m-1.5 -1.5v3.0M705.8 87.8h3.0m-1.5 -1.5v3.0M707.7 109.3h3.0m-1.5 -1.5v3.0M711.5 111.0h3.0m-1.5 -1.5v3.0M714.8 108.2h3.0m-1.5 -1.5v3.0M716.9 110.0h3.0m-1.5 -1.5v3.0M719.7 118.7h3.0m-1.5 -1.5v3.0M722.4 147.6h3.0m-1.5 -1.5v3.0M726.1 152.9h3.0m-1.5 -1.5v3.0M729.2 164.3h3.0m-1.5 -1.5v3.0M706.9 229.5h3.0m-1.5 -1.5v3.0M710.4 240.9h3.0m-1.5 -1.5v3.0M713.8 212.2h3.0m-1.5 -1.5v3.0M716.9 183.2h3.0m-1.5 -1.5v3.0M720.3 163.3h3.0m-1.5 -1.5v3.0M723.4 148.7h3.0m-1.5 -1.5v3.0M726.7 171.9h3.0m-1.5 -1.5v3.0M729.6 193.4h3.0m-1.5 -1.5v3.0M732.5 213.9h3.0m-1.5 -1.5v3.0M735.4 239.0h3.0m-1.5 -1.5v3.0M739.6 252.6h3.0m-1.5 -1.5v3.0M742.7 237.9h3.0m-1.5 -1.5v3.0M744.5 209.7h3.0m-1.5 -1.5v3.0M747.7 192.5h3.0m-1.5 -1.5v3.0M707.6 300.5h3.0m-1.5 -1.5v3.0M741.8 257.1h3.0m-1.5 -1.5v3.0M741.2 272.7h3.0m-1.5 -1.5v3.0M734.7 180.5h3.0m-1.5 -1.5v3.0M738.4 159.4h3.0m-1.5 -1.5v3.0M741.3 158.0h3.0m-1.5 -1.5v3.0M743.7 192.9h3.0m-1.5 -1.5v3.0M747.5 206.0h3.0m-1.5 -1.5v3.0M748.8 194.4h3.0m-1.5 -1.5v3.0M748.4 220.5h3.0m-1.5 -1.5v3.0M750.4 257.3h3.0m-1.5 -1.5v3.0M745.7 212.4h3.0m-1.5 -1.5v3.0M748.6 236.7h3.0m-1.5 -1.5v3.0M752.7 235.3h3.0m-1.5 -1.5v3.0M751.3 234.6h3.0m-1.5 -1.5v3.0M754.0 240.0h3.0m-1.5 -1.5v3.0M754.4 193.0h3.0m-1.5 -1.5v3.0M755.3 219.9h3.0m-1.5 -1.5v3.0M755.6 261.7h3.0m-1.5 -1.5v3.0M754.5 292.6h3.0m-1.5 -1.5v3.0M755.2 327.7h3.0m-1.5 -1.5v3.0M710.4 293.6h3.0m-1.5 -1.5v3.0M713.4 279.6h3.0m-1.5 -1.5v3.0M717.6 259.7h3.0m-1.5 -1.5v3.0M721.3 258.6h3.0m-1.5 -1.5v3.0M724.4 268.9h3.0m-1.5 -1.5v3.0M727.9 296.1h3.0m-1.5 -1.5v3.0M721.0 262.9h3.0m-1.5 -1.5v3.0M717.2 330.1h3.0m-1.5 -1.5v3.0M721.7 321.8h3.0m-1.5 -1.5v3.0M725.8 310.2h3.0m-1.5 -1.5v3.0M730.5 315.3h3.0m-1.5 -1.5v3.0M736.6 319.8h3.0m-1.5 -1.5v3.0M739.8 294.5h3.0m-1.5 -1.5v3.0M728.0 323.2h3.0m-1.5 -1.5v3.0M732.2 379.2h3.0m-1.5 -1.5v3.0M736.2 403.4h3.0m-1.5 -1.5v3.0M738.7 408.5h3.0m-1.5 -1.5v3.0M741.6 385.2h3.0m-1.5 -1.5v3.0M746.1 382.7h3.0m-1.5 -1.5v3.0M748.4 418.9h3.0m-1.5 -1.5v3.0M751.9 424.1h3.0m-1.5 -1.5v3.0M754.7 421.4h3.0m-1.5 -1.5v3.0M744.6 264.0h3.0m-1.5 -1.5v3.0M747.0 322.0h3.0m-1.5 -1.5v3.0M748.4 328.8h3.0m-1.5 -1.5v3.0M751.9 315.9h3.0m-1.5 -1.5v3.0M747.4 340.5h3.0m-1.5 -1.5v3.0M751.6 325.5h3.0m-1.5 -1.5v3.0M746.4 345.5h3.0m-1.5 -1.5v3.0M750.1 344.4h3.0m-1.5 -1.5v3.0M754.0 331.0h3.0m-1.5 -1.5v3.0M751.1 323.3h3.0m-1.5 -1.5v3.0M682.9 411.4h3.0m-1.5 -1.5v3.0M689.5 440.2h3.0m-1.5 -1.5v3.0M693.1 412.0h3.0m-1.5 -1.5v3.0M695.9 375.3h3.0m-1.5 -1.5v3.0M704.5 316.6h3.0m-1.5 -1.5v3.0M709.8 362.1h3.0m-1.5 -1.5v3.0M715.2 346.8h3.0m-1.5 -1.5v3.0M693.6 336.9h3.0m-1.5 -1.5v3.0"/>
</g>
<path d="M72.5 499V60.5H765.5V499" fill="none" stroke="#000" stroke-width="1.25"/>
<path d="M72 498.5H766" fill="none" stroke="#000" stroke-width="0.75"/>
<path d="M69 114.5H72.5M69 210.5H72.5M69 306.5H72.5M69 402.5H72.5M69 498.5H72.5M555.5 498.5V502M650.5 498.5V502M707.5 498.5V502M756.5 498.5V502" stroke="#000" stroke-width="0.75" fill="none"/>
<path d="M72.5 520.5H765.5M555.5 520.5V524.0M650.5 520.5V524.0M707.5 520.5V524.0M756.5 520.5V524.0M72.5 542.5H765.5M555.5 542.5V546.0M650.5 542.5V546.0M707.5 542.5V546.0M756.5 542.5V546.0M72.5 564.5H765.5M555.5 564.5V568.0M650.5 564.5V568.0M707.5 564.5V568.0M756.5 564.5V568.0" stroke="#000" stroke-width="0.75" fill="none"/>
<g stroke="#000" stroke-width="0.14" stroke-linejoin="round">
<text x="156.10" y="30.80" font-size="17.70" textLength="62.23" lengthAdjust="spacingAndGlyphs">Swarm</text>
<text x="224.33" y="30.80" font-size="17.70" textLength="19.08" lengthAdjust="spacingAndGlyphs">B,</text>
<text x="252.53" y="30.80" font-size="17.70" textLength="47.42" lengthAdjust="spacingAndGlyphs">2026</text>
<text x="322.18" y="30.80" font-size="17.70" textLength="22.85" lengthAdjust="spacingAndGlyphs">01</text>
<text x="367.91" y="30.80" font-size="17.70" textLength="30.25" lengthAdjust="spacingAndGlyphs">24,</text>
<text x="407.00" y="30.80" font-size="17.70" textLength="35.72" lengthAdjust="spacingAndGlyphs">TEC</text>
<text x="448.96" y="30.80" font-size="17.70" textLength="100.96" lengthAdjust="spacingAndGlyphs">northward,</text>
<text x="558.68" y="30.80" font-size="17.70" textLength="42.09" lengthAdjust="spacingAndGlyphs">orbit</text>
<text x="607.89" y="30.80" font-size="17.70" textLength="73.64" lengthAdjust="spacingAndGlyphs">#67585</text>
<text x="116.35" y="53.80" font-size="17.70" textLength="69.95" lengthAdjust="spacingAndGlyphs">Equator</text>
<text x="191.57" y="53.80" font-size="17.70" textLength="7.31" lengthAdjust="spacingAndGlyphs">:</text>
<text x="207.62" y="53.80" font-size="17.70" textLength="36.70" lengthAdjust="spacingAndGlyphs">UTC</text>
<text x="250.97" y="53.80" font-size="17.70" textLength="22.96" lengthAdjust="spacingAndGlyphs">23</text>
<text x="277.57" y="53.80" font-size="17.70" textLength="7.31" lengthAdjust="spacingAndGlyphs">:</text>
<text x="288.81" y="53.80" font-size="17.70" textLength="21.98" lengthAdjust="spacingAndGlyphs">50</text>
<text x="314.57" y="53.80" font-size="17.70" textLength="7.31" lengthAdjust="spacingAndGlyphs">:</text>
<text x="325.15" y="53.80" font-size="17.70" textLength="27.64" lengthAdjust="spacingAndGlyphs">44,</text>
<text x="362.33" y="53.80" font-size="17.70" textLength="22.13" lengthAdjust="spacingAndGlyphs">LT</text>
<text x="391.44" y="53.80" font-size="17.70" textLength="69.47" lengthAdjust="spacingAndGlyphs">17.48h,</text>
<text x="468.68" y="53.80" font-size="17.70" textLength="34.69" lengthAdjust="spacingAndGlyphs">Lon</text>
<text x="531.97" y="53.80" font-size="17.70" textLength="68.99" lengthAdjust="spacingAndGlyphs">95.46°,</text>
<text x="608.95" y="53.80" font-size="17.70" textLength="25.61" lengthAdjust="spacingAndGlyphs">Alt</text>
<text x="640.53" y="53.80" font-size="17.70" textLength="80.45" lengthAdjust="spacingAndGlyphs">494.1km</text>
<text x="32.34" y="119.90" font-size="16.10" textLength="33.53" lengthAdjust="spacingAndGlyphs">20.0</text>
<text x="31.89" y="215.90" font-size="16.10" textLength="33.99" lengthAdjust="spacingAndGlyphs">15.0</text>
<text x="31.89" y="311.90" font-size="16.10" textLength="33.99" lengthAdjust="spacingAndGlyphs">10.0</text>
<text x="41.91" y="407.90" font-size="16.10" textLength="23.94" lengthAdjust="spacingAndGlyphs">5.0</text>
<text x="41.91" y="503.90" font-size="16.10" textLength="23.94" lengthAdjust="spacingAndGlyphs">0.0</text>
<g transform="translate(21.2,323) rotate(-90)"><text x="-0.33" y="0.00" font-size="16.10" textLength="29.73" lengthAdjust="spacingAndGlyphs">TEC</text><text x="39.66" y="0.00" font-size="16.10" textLength="40.79" lengthAdjust="spacingAndGlyphs">TECU</text><text x="34.33" y="0.00" font-size="16.10">[</text><text x="81.78" y="0.00" font-size="16.10">]</text></g>
<text x="540.96" y="516.00" font-size="16.10" textLength="33.08" lengthAdjust="spacingAndGlyphs">35.3</text>
<text x="635.23" y="516.00" font-size="16.10" textLength="33.74" lengthAdjust="spacingAndGlyphs">60.0</text>
<text x="693.22" y="516.00" font-size="16.10" textLength="32.74" lengthAdjust="spacingAndGlyphs">75.0</text>
<text x="741.48" y="516.00" font-size="16.10" textLength="32.99" lengthAdjust="spacingAndGlyphs">87.7</text>
<text x="786.77" y="517.00" font-size="16.10" textLength="26.16" lengthAdjust="spacingAndGlyphs">LAT</text>
<text x="819.03 825.96 834.86" y="517.00" font-size="16.10">[°]</text>
<text x="539.23" y="538.20" font-size="16.10" textLength="32.12" lengthAdjust="spacingAndGlyphs">46.2</text>
<text x="632.94" y="538.20" font-size="16.10" textLength="33.31" lengthAdjust="spacingAndGlyphs">68.8</text>
<text x="689.76" y="538.20" font-size="16.10" textLength="33.83" lengthAdjust="spacingAndGlyphs">82.2</text>
<text x="739.46" y="538.20" font-size="16.10" textLength="33.70" lengthAdjust="spacingAndGlyphs">84.8</text>
<text x="786.74" y="539.00" font-size="16.10" textLength="39.61" lengthAdjust="spacingAndGlyphs">MLAT</text>
<text x="831.73 838.21 846.66" y="539.00" font-size="16.10">[°]</text>
<text x="539.07" y="560.10" font-size="16.10" textLength="31.93" lengthAdjust="spacingAndGlyphs">17.1</text>
<text x="634.07" y="560.10" font-size="16.10" textLength="31.93" lengthAdjust="spacingAndGlyphs">17.1</text>
<text x="690.84" y="560.10" font-size="16.10" textLength="32.72" lengthAdjust="spacingAndGlyphs">17.2</text>
<text x="746.82" y="560.10" font-size="16.10" textLength="23.32" lengthAdjust="spacingAndGlyphs">4.7</text>
<text x="786.72" y="560.00" font-size="16.10" textLength="29.95" lengthAdjust="spacingAndGlyphs">MLT</text>
<text x="822.23 828.41 839.06" y="560.00" font-size="16.10">[h]</text>
<text x="533.01" y="582.20" font-size="16.10" textLength="42.93" lengthAdjust="spacingAndGlyphs">00:00</text>
<text x="628.01" y="582.20" font-size="16.10" textLength="43.02" lengthAdjust="spacingAndGlyphs">00:06</text>
<text x="686.02" y="582.20" font-size="16.10" textLength="42.72" lengthAdjust="spacingAndGlyphs">00:10</text>
<text x="735.03" y="582.20" font-size="16.10" textLength="42.14" lengthAdjust="spacingAndGlyphs">00:14</text>
<text x="786.88" y="582.00" font-size="16.10" textLength="29.70" lengthAdjust="spacingAndGlyphs">UTC</text>
<text x="822.23 826.34 837.60" y="582.00" font-size="16.10">[HH</text>
<text x="851.86" y="582.00" font-size="16.10" textLength="6.43" lengthAdjust="spacingAndGlyphs">:</text>
<text x="861.47 874.42 887.36" y="582.00" font-size="16.10">MM]</text>
<path d="M305.1 24.9H316.4M351 24.9H362.5M514.8 48H526.7" stroke="#000" stroke-width="1.45" fill="none"/>
</g>
</svg>
</body></html>
